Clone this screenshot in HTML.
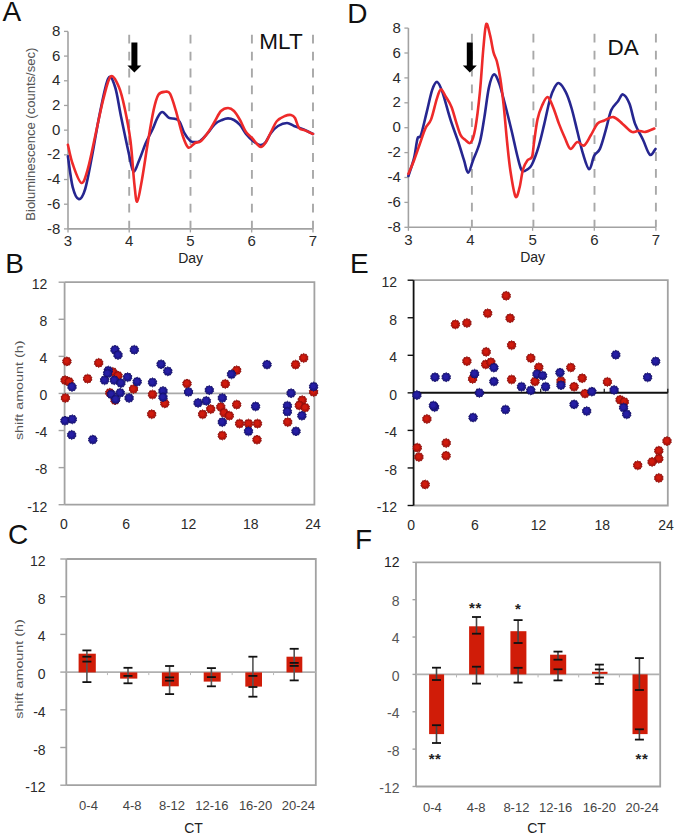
<!DOCTYPE html><html><head><meta charset="utf-8"><style>html,body{margin:0;padding:0;background:#fff;}svg{display:block;}</style></head><body>
<svg width="675" height="837" viewBox="0 0 675 837" font-family='"Liberation Sans", sans-serif'>
<rect width="675" height="837" fill="#fff"/>
<text x="2.6" y="20.6" font-size="28" text-anchor="start" fill="#111">A</text>
<text x="347.2" y="23.3" font-size="28" text-anchor="start" fill="#111">D</text>
<text x="5.3" y="273" font-size="28" text-anchor="start" fill="#111">B</text>
<text x="349.9" y="273" font-size="28" text-anchor="start" fill="#111">E</text>
<text x="7.9" y="543.5" font-size="28" text-anchor="start" fill="#111">C</text>
<text x="354.9" y="549.3" font-size="28" text-anchor="start" fill="#111">F</text>
<line x1="68" y1="31.4" x2="68" y2="228.9" stroke="#a2a2a2" stroke-width="1.6"/>
<line x1="68" y1="228.9" x2="313" y2="228.9" stroke="#a2a2a2" stroke-width="1.6"/>
<line x1="64" y1="31.4" x2="68" y2="31.4" stroke="#a2a2a2" stroke-width="1.3"/>
<text x="60.4" y="36" font-size="15" text-anchor="end" fill="#2a2a2a">8</text>
<line x1="64" y1="56.09" x2="68" y2="56.09" stroke="#a2a2a2" stroke-width="1.3"/>
<text x="60.4" y="60.69" font-size="15" text-anchor="end" fill="#2a2a2a">6</text>
<line x1="64" y1="80.78" x2="68" y2="80.78" stroke="#a2a2a2" stroke-width="1.3"/>
<text x="60.4" y="85.38" font-size="15" text-anchor="end" fill="#2a2a2a">4</text>
<line x1="64" y1="105.46" x2="68" y2="105.46" stroke="#a2a2a2" stroke-width="1.3"/>
<text x="60.4" y="110.06" font-size="15" text-anchor="end" fill="#2a2a2a">2</text>
<line x1="64" y1="130.15" x2="68" y2="130.15" stroke="#a2a2a2" stroke-width="1.3"/>
<text x="60.4" y="134.75" font-size="15" text-anchor="end" fill="#2a2a2a">0</text>
<line x1="64" y1="154.84" x2="68" y2="154.84" stroke="#a2a2a2" stroke-width="1.3"/>
<text x="60.4" y="159.44" font-size="15" text-anchor="end" fill="#2a2a2a">-2</text>
<line x1="64" y1="179.53" x2="68" y2="179.53" stroke="#a2a2a2" stroke-width="1.3"/>
<text x="60.4" y="184.12" font-size="15" text-anchor="end" fill="#2a2a2a">-4</text>
<line x1="64" y1="204.21" x2="68" y2="204.21" stroke="#a2a2a2" stroke-width="1.3"/>
<text x="60.4" y="208.81" font-size="15" text-anchor="end" fill="#2a2a2a">-6</text>
<line x1="64" y1="228.9" x2="68" y2="228.9" stroke="#a2a2a2" stroke-width="1.3"/>
<text x="60.4" y="233.5" font-size="15" text-anchor="end" fill="#2a2a2a">-8</text>
<line x1="68" y1="228.9" x2="68" y2="232.4" stroke="#a2a2a2" stroke-width="1.3"/>
<text x="68" y="246.2" font-size="15" text-anchor="middle" fill="#2a2a2a">3</text>
<line x1="129.2" y1="228.9" x2="129.2" y2="232.4" stroke="#a2a2a2" stroke-width="1.3"/>
<text x="129.2" y="246.2" font-size="15" text-anchor="middle" fill="#2a2a2a">4</text>
<line x1="190.4" y1="228.9" x2="190.4" y2="232.4" stroke="#a2a2a2" stroke-width="1.3"/>
<text x="190.4" y="246.2" font-size="15" text-anchor="middle" fill="#2a2a2a">5</text>
<line x1="251.7" y1="228.9" x2="251.7" y2="232.4" stroke="#a2a2a2" stroke-width="1.3"/>
<text x="251.7" y="246.2" font-size="15" text-anchor="middle" fill="#2a2a2a">6</text>
<line x1="313" y1="228.9" x2="313" y2="232.4" stroke="#a2a2a2" stroke-width="1.3"/>
<text x="313" y="246.2" font-size="15" text-anchor="middle" fill="#2a2a2a">7</text>
<line x1="129.2" y1="34.8" x2="129.2" y2="228.9" stroke="#a8a8a8" stroke-width="1.9" stroke-dasharray="8.8 8.1"/>
<line x1="190.5" y1="34.8" x2="190.5" y2="228.9" stroke="#a8a8a8" stroke-width="1.9" stroke-dasharray="8.8 8.1"/>
<line x1="251.9" y1="34.8" x2="251.9" y2="228.9" stroke="#a8a8a8" stroke-width="1.9" stroke-dasharray="8.8 8.1"/>
<line x1="313" y1="34.8" x2="313" y2="228.9" stroke="#a8a8a8" stroke-width="1.9" stroke-dasharray="8.8 8.1"/>
<path d="M67.9,156.3 C68.7,161.43 70.87,179.97 72.7,187.1 C74.53,194.23 76.82,198.78 78.9,199.1 C80.98,199.42 83.02,196.13 85.2,189 C87.38,181.87 89.58,168.82 92,156.3 C94.42,143.78 96.98,126.9 99.7,113.9 C102.42,100.9 105.73,82.78 108.3,78.3 C110.87,73.82 113,80.73 115.1,87 C117.2,93.27 118.65,105 120.9,115.9 C123.15,126.8 126.52,143.17 128.6,152.4 C130.68,161.63 131.63,170 133.4,171.3 C135.17,172.6 137.12,164.95 139.2,160.2 C141.28,155.45 143.67,147.95 145.9,142.8 C148.13,137.65 150.68,133.47 152.6,129.3 C154.52,125.13 155.78,120.68 157.4,117.8 C159.02,114.92 160.37,112 162.3,112 C164.23,112 166.92,116.68 169,117.8 C171.08,118.92 173.03,118.07 174.8,118.7 C176.57,119.33 178,119.18 179.6,121.6 C181.2,124.02 182.63,129.98 184.4,133.2 C186.17,136.42 188.6,139.43 190.2,140.9 C191.8,142.37 192.37,141.98 194,142 C195.63,142.02 197.83,142.33 200,141 C202.17,139.67 204.5,136.83 207,134 C209.5,131.17 212.5,126.33 215,124 C217.5,121.67 219.83,120.93 222,120 C224.17,119.07 226,118.4 228,118.4 C230,118.4 232,118.9 234,120 C236,121.1 238,122.67 240,125 C242,127.33 243.83,131.33 246,134 C248.17,136.67 250.67,139.17 253,141 C255.33,142.83 258,144.67 260,145 C262,145.33 263.17,145 265,143 C266.83,141 268.83,135.83 271,133 C273.17,130.17 275.33,127.67 278,126 C280.67,124.33 284.33,123 287,123 C289.67,123 291.67,125.1 294,126 C296.33,126.9 298.83,127.57 301,128.4 C303.17,129.23 305,130.07 307,131 C309,131.93 312,133.5 313,134" fill="none" stroke="#262690" stroke-width="2.6" stroke-linejoin="round" stroke-linecap="round"/>
<path d="M67.9,144.7 C68.7,147.92 70.45,157.63 72.7,164 C74.95,170.37 78.83,182.25 81.4,182.9 C83.97,183.55 85.7,176.18 88.1,167.9 C90.5,159.62 93.23,144.77 95.8,133.2 C98.37,121.63 101,107.97 103.5,98.5 C106,89.03 108.23,78.32 110.8,76.4 C113.37,74.48 116.58,81.7 118.9,87 C121.22,92.3 122.77,99.22 124.7,108.2 C126.63,117.18 128.9,128.38 130.5,140.9 C132.1,153.42 133.18,173.18 134.3,183.3 C135.42,193.42 135.92,202.25 137.2,201.6 C138.48,200.95 140.23,189.2 142,179.4 C143.77,169.6 145.87,154.35 147.8,142.8 C149.73,131.25 151.83,118.12 153.6,110.1 C155.37,102.08 156.47,97.75 158.4,94.7 C160.33,91.65 163.27,91.97 165.2,91.8 C167.13,91.63 168.25,90.65 170,93.7 C171.75,96.75 173.62,103.2 175.7,110.1 C177.78,117 180.4,128.85 182.5,135.1 C184.6,141.35 186.22,146.28 188.3,147.6 C190.38,148.92 192.88,144.1 195,143 C197.12,141.9 198.67,143 201,141 C203.33,139 206.67,134.33 209,131 C211.33,127.67 213,124.33 215,121 C217,117.67 218.83,113.17 221,111 C223.17,108.83 225.83,108 228,108 C230.17,108 232,109 234,111 C236,113 238,116.5 240,120 C242,123.5 244,129 246,132 C248,135 250.17,136 252,138 C253.83,140 255.5,142.5 257,144 C258.5,145.5 259.5,147.33 261,147 C262.5,146.67 264.33,144.5 266,142 C267.67,139.5 269.17,135.5 271,132 C272.83,128.5 274.67,123.67 277,121 C279.33,118.33 282.67,117 285,116 C287.33,115 289.33,114.67 291,115 C292.67,115.33 293.67,115.83 295,118 C296.33,120.17 297.33,125.93 299,128 C300.67,130.07 302.67,129.4 305,130.4 C307.33,131.4 311.67,133.4 313,134" fill="none" stroke="#ee2a2a" stroke-width="2.6" stroke-linejoin="round" stroke-linecap="round"/>
<path d="M131.4,42.6 H137.4 V65.6 H141.4 L134.4,72.6 L127.4,65.6 H131.4 Z" fill="#000"/>
<text x="259.3" y="48.9" font-size="22.5" text-anchor="start" fill="#111">MLT</text>
<text x="0" y="0" font-size="12.4" text-anchor="middle" fill="#555" textLength="173" lengthAdjust="spacingAndGlyphs" transform="translate(35,134.2) rotate(-90)">Bioluminescence (counts/sec)</text>
<text x="190.6" y="263.2" font-size="14" text-anchor="middle" fill="#222">Day</text>
<line x1="408.4" y1="28.1" x2="408.4" y2="227.3" stroke="#a2a2a2" stroke-width="1.6"/>
<line x1="408.4" y1="227.3" x2="655.9" y2="227.3" stroke="#a2a2a2" stroke-width="1.6"/>
<line x1="404.4" y1="28.1" x2="408.4" y2="28.1" stroke="#a2a2a2" stroke-width="1.3"/>
<text x="400.8" y="32.7" font-size="15" text-anchor="end" fill="#2a2a2a">8</text>
<line x1="404.4" y1="53" x2="408.4" y2="53" stroke="#a2a2a2" stroke-width="1.3"/>
<text x="400.8" y="57.6" font-size="15" text-anchor="end" fill="#2a2a2a">6</text>
<line x1="404.4" y1="77.9" x2="408.4" y2="77.9" stroke="#a2a2a2" stroke-width="1.3"/>
<text x="400.8" y="82.5" font-size="15" text-anchor="end" fill="#2a2a2a">4</text>
<line x1="404.4" y1="102.8" x2="408.4" y2="102.8" stroke="#a2a2a2" stroke-width="1.3"/>
<text x="400.8" y="107.4" font-size="15" text-anchor="end" fill="#2a2a2a">2</text>
<line x1="404.4" y1="127.7" x2="408.4" y2="127.7" stroke="#a2a2a2" stroke-width="1.3"/>
<text x="400.8" y="132.3" font-size="15" text-anchor="end" fill="#2a2a2a">0</text>
<line x1="404.4" y1="152.6" x2="408.4" y2="152.6" stroke="#a2a2a2" stroke-width="1.3"/>
<text x="400.8" y="157.2" font-size="15" text-anchor="end" fill="#2a2a2a">-2</text>
<line x1="404.4" y1="177.5" x2="408.4" y2="177.5" stroke="#a2a2a2" stroke-width="1.3"/>
<text x="400.8" y="182.1" font-size="15" text-anchor="end" fill="#2a2a2a">-4</text>
<line x1="404.4" y1="202.4" x2="408.4" y2="202.4" stroke="#a2a2a2" stroke-width="1.3"/>
<text x="400.8" y="207" font-size="15" text-anchor="end" fill="#2a2a2a">-6</text>
<line x1="404.4" y1="227.3" x2="408.4" y2="227.3" stroke="#a2a2a2" stroke-width="1.3"/>
<text x="400.8" y="231.9" font-size="15" text-anchor="end" fill="#2a2a2a">-8</text>
<line x1="408.4" y1="227.3" x2="408.4" y2="230.8" stroke="#a2a2a2" stroke-width="1.3"/>
<text x="408.4" y="244.6" font-size="15" text-anchor="middle" fill="#2a2a2a">3</text>
<line x1="470.4" y1="227.3" x2="470.4" y2="230.8" stroke="#a2a2a2" stroke-width="1.3"/>
<text x="470.4" y="244.6" font-size="15" text-anchor="middle" fill="#2a2a2a">4</text>
<line x1="532.6" y1="227.3" x2="532.6" y2="230.8" stroke="#a2a2a2" stroke-width="1.3"/>
<text x="532.6" y="244.6" font-size="15" text-anchor="middle" fill="#2a2a2a">5</text>
<line x1="594.3" y1="227.3" x2="594.3" y2="230.8" stroke="#a2a2a2" stroke-width="1.3"/>
<text x="594.3" y="244.6" font-size="15" text-anchor="middle" fill="#2a2a2a">6</text>
<line x1="655.9" y1="227.3" x2="655.9" y2="230.8" stroke="#a2a2a2" stroke-width="1.3"/>
<text x="655.9" y="244.6" font-size="15" text-anchor="middle" fill="#2a2a2a">7</text>
<line x1="471.9" y1="33.8" x2="471.9" y2="227.3" stroke="#a8a8a8" stroke-width="1.9" stroke-dasharray="8.8 8.1"/>
<line x1="533.4" y1="33.8" x2="533.4" y2="227.3" stroke="#a8a8a8" stroke-width="1.9" stroke-dasharray="8.8 8.1"/>
<line x1="594.5" y1="33.8" x2="594.5" y2="227.3" stroke="#a8a8a8" stroke-width="1.9" stroke-dasharray="8.8 8.1"/>
<line x1="655.9" y1="33.8" x2="655.9" y2="227.3" stroke="#a8a8a8" stroke-width="1.9" stroke-dasharray="8.8 8.1"/>
<path d="M408.4,176 C409.35,172.98 412.58,164.13 414.1,157.9 C415.62,151.67 416.37,142.38 417.5,138.6 C418.63,134.82 419.38,139.53 420.9,135.2 C422.42,130.87 424.72,120.15 426.6,112.6 C428.48,105.05 430.43,95.02 432.2,89.9 C433.97,84.78 435.5,81.53 437.2,81.9 C438.9,82.27 440.2,85.85 442.4,92.1 C444.6,98.35 447.75,111.08 450.4,119.4 C453.05,127.72 456.03,135.2 458.3,142 C460.57,148.8 462.37,155.08 464,160.2 C465.63,165.32 466.58,172.7 468.1,172.7 C469.62,172.7 471.13,165.32 473.1,160.2 C475.07,155.08 478.02,149.18 479.9,142 C481.78,134.82 482.9,126.17 484.4,117.1 C485.9,108.03 487.32,94.72 488.9,87.6 C490.48,80.48 492.2,75.15 493.9,74.4 C495.6,73.65 497.28,78.25 499.1,83.1 C500.92,87.95 502.72,95.57 504.8,103.5 C506.88,111.43 509.52,122 511.6,130.7 C513.68,139.4 515.6,149.08 517.3,155.7 C519,162.32 520.1,168.13 521.8,170.4 C523.5,172.67 525.83,170.23 527.5,169.3 C529.17,168.37 529.95,168.58 531.8,164.8 C533.65,161.02 536.52,153.42 538.6,146.6 C540.68,139.78 542.4,131.83 544.3,123.9 C546.2,115.97 548.3,105.05 550,99 C551.7,92.95 553,90.25 554.5,87.6 C556,84.95 557.12,82.33 559,83.1 C560.88,83.87 563.72,88.05 565.8,92.2 C567.88,96.35 569.6,101.58 571.5,108 C573.4,114.42 575.3,123.13 577.2,130.7 C579.1,138.27 580.9,146.97 582.9,153.4 C584.9,159.83 587.32,168.92 589.2,169.3 C591.08,169.68 592.42,159.1 594.2,155.7 C595.98,152.3 598,153.07 599.9,148.9 C601.8,144.73 603.72,137.13 605.6,130.7 C607.48,124.27 609.13,115.22 611.2,110.3 C613.27,105.38 616.03,103.85 618,101.2 C619.97,98.55 621.1,94.02 623,94.4 C624.9,94.78 627.38,98.58 629.4,103.5 C631.42,108.42 632.83,117.85 635.1,123.9 C637.37,129.95 640.55,134.68 643,139.8 C645.45,144.92 647.72,153.08 649.8,154.6 C651.88,156.12 654.55,149.85 655.5,148.9" fill="none" stroke="#262690" stroke-width="2.6" stroke-linejoin="round" stroke-linecap="round"/>
<path d="M408.4,173.8 C409.35,171.53 412.22,165.12 414.1,160.2 C415.98,155.28 417.82,149.6 419.7,144.3 C421.58,139 423.5,132.55 425.4,128.4 C427.3,124.25 429.2,124.32 431.1,119.4 C433,114.48 435.18,103.9 436.8,98.9 C438.42,93.9 439.3,89.77 440.8,89.4 C442.3,89.03 444.02,93.78 445.8,96.7 C447.58,99.62 449.8,102.75 451.5,106.9 C453.2,111.05 454.48,116.88 456,121.6 C457.52,126.32 459.08,132.17 460.6,135.2 C462.12,138.23 463.4,138.58 465.1,139.8 C466.8,141.02 469.1,144.4 470.8,142.5 C472.5,140.6 473.78,136.8 475.3,128.4 C476.82,120 478.57,105.33 479.9,92.1 C481.23,78.87 482.25,60.33 483.3,49 C484.35,37.67 485.07,26.37 486.2,24.1 C487.33,21.83 488.88,30.68 490.1,35.4 C491.32,40.12 492.37,48.05 493.5,52.4 C494.63,56.75 495.77,57.15 496.9,61.5 C498.03,65.85 499.17,71.13 500.3,78.5 C501.43,85.87 502.57,95.12 503.7,105.7 C504.83,116.28 505.97,131.03 507.1,142 C508.23,152.97 509.1,162.42 510.5,171.5 C511.9,180.58 513.98,193.85 515.5,196.5 C517.02,199.15 518.35,191.93 519.6,187.4 C520.85,182.87 521.68,173.83 523,169.3 C524.32,164.77 526,162.28 527.5,160.2 C529,158.12 530.9,159.82 532,156.8 C533.1,153.78 533.18,148.33 534.1,142.1 C535.02,135.87 536.18,125.45 537.5,119.4 C538.82,113.35 540.3,109.52 542,105.8 C543.7,102.08 545.8,96.73 547.7,97.1 C549.6,97.47 551.52,103.53 553.4,108 C555.28,112.47 557.12,118.98 559,123.9 C560.88,128.82 562.8,133.33 564.7,137.5 C566.6,141.67 568.32,148.13 570.4,148.9 C572.48,149.67 574.93,142.67 577.2,142.1 C579.47,141.53 581.73,146.63 584,145.5 C586.27,144.37 588.53,138.97 590.8,135.3 C593.07,131.63 595.33,125.97 597.6,123.5 C599.87,121.03 601.75,121.57 604.4,120.5 C607.05,119.43 610.47,116.53 613.5,117.1 C616.53,117.67 619.57,121.43 622.6,123.9 C625.63,126.37 629.05,130.77 631.7,131.9 C634.35,133.03 636.23,130.7 638.5,130.7 C640.77,130.7 642.67,132.27 645.3,131.9 C647.93,131.53 652.8,129.07 654.3,128.5" fill="none" stroke="#ee2a2a" stroke-width="2.6" stroke-linejoin="round" stroke-linecap="round"/>
<path d="M466.8,42.6 H472.8 V65.6 H476.8 L469.8,72.6 L462.8,65.6 H466.8 Z" fill="#000"/>
<text x="607.4" y="54.5" font-size="22.5" text-anchor="start" fill="#111">DA</text>
<text x="532.6" y="262" font-size="14" text-anchor="middle" fill="#222">Day</text>
<path d="M64.6,282.2 H314.4 V504.7 H64.6" fill="none" stroke="#a2a2a2" stroke-width="1.8"/>
<line x1="64.6" y1="282.2" x2="64.6" y2="504.7" stroke="#a2a2a2" stroke-width="1.8"/>
<line x1="58.6" y1="282.2" x2="64.6" y2="282.2" stroke="#a2a2a2" stroke-width="1.4"/>
<text x="47.4" y="289" font-size="14" text-anchor="end" fill="#2a2a2a">12</text>
<line x1="58.6" y1="319.28" x2="64.6" y2="319.28" stroke="#a2a2a2" stroke-width="1.4"/>
<text x="47.4" y="326.08" font-size="14" text-anchor="end" fill="#2a2a2a">8</text>
<line x1="58.6" y1="356.37" x2="64.6" y2="356.37" stroke="#a2a2a2" stroke-width="1.4"/>
<text x="47.4" y="363.17" font-size="14" text-anchor="end" fill="#2a2a2a">4</text>
<line x1="58.6" y1="393.45" x2="64.6" y2="393.45" stroke="#a2a2a2" stroke-width="1.4"/>
<text x="47.4" y="400.25" font-size="14" text-anchor="end" fill="#2a2a2a">0</text>
<line x1="58.6" y1="430.53" x2="64.6" y2="430.53" stroke="#a2a2a2" stroke-width="1.4"/>
<text x="47.4" y="437.33" font-size="14" text-anchor="end" fill="#2a2a2a">-4</text>
<line x1="58.6" y1="467.62" x2="64.6" y2="467.62" stroke="#a2a2a2" stroke-width="1.4"/>
<text x="47.4" y="474.42" font-size="14" text-anchor="end" fill="#2a2a2a">-8</text>
<line x1="58.6" y1="504.7" x2="64.6" y2="504.7" stroke="#a2a2a2" stroke-width="1.4"/>
<text x="47.4" y="511.5" font-size="14" text-anchor="end" fill="#2a2a2a">-12</text>
<text x="63.9" y="529.4" font-size="14" text-anchor="middle" fill="#2a2a2a">0</text>
<text x="126.17" y="529.4" font-size="14" text-anchor="middle" fill="#2a2a2a">6</text>
<text x="188.45" y="529.4" font-size="14" text-anchor="middle" fill="#2a2a2a">12</text>
<text x="250.73" y="529.4" font-size="14" text-anchor="middle" fill="#2a2a2a">18</text>
<text x="313" y="529.4" font-size="14" text-anchor="middle" fill="#2a2a2a">24</text>
<line x1="64.6" y1="393.45" x2="314.4" y2="393.45" stroke="#a9a9a9" stroke-width="1.8"/>
<g transform="translate(66.9,361.4)"><polygon points="0.00,-4.55 1.17,-3.61 2.67,-3.68 3.07,-2.23 4.33,-1.41 3.80,0.00 4.33,1.41 3.07,2.23 2.67,3.68 1.17,3.61 0.00,4.55 -1.17,3.61 -2.67,3.68 -3.07,2.23 -4.33,1.41 -3.80,0.00 -4.33,-1.41 -3.07,-2.23 -2.67,-3.68 -1.17,-3.61" fill="#b8140c" stroke="#8c0e0a" stroke-width="0.9" stroke-linejoin="round"/><circle cx="-0.3" cy="-0.4" r="2.4" fill="#d41c0e" opacity="0.85"/></g>
<g transform="translate(98.7,362.9)"><polygon points="0.00,-4.55 1.17,-3.61 2.67,-3.68 3.07,-2.23 4.33,-1.41 3.80,0.00 4.33,1.41 3.07,2.23 2.67,3.68 1.17,3.61 0.00,4.55 -1.17,3.61 -2.67,3.68 -3.07,2.23 -4.33,1.41 -3.80,0.00 -4.33,-1.41 -3.07,-2.23 -2.67,-3.68 -1.17,-3.61" fill="#b8140c" stroke="#8c0e0a" stroke-width="0.9" stroke-linejoin="round"/><circle cx="-0.3" cy="-0.4" r="2.4" fill="#d41c0e" opacity="0.85"/></g>
<g transform="translate(87.6,378.7)"><polygon points="0.00,-4.55 1.17,-3.61 2.67,-3.68 3.07,-2.23 4.33,-1.41 3.80,0.00 4.33,1.41 3.07,2.23 2.67,3.68 1.17,3.61 0.00,4.55 -1.17,3.61 -2.67,3.68 -3.07,2.23 -4.33,1.41 -3.80,0.00 -4.33,-1.41 -3.07,-2.23 -2.67,-3.68 -1.17,-3.61" fill="#b8140c" stroke="#8c0e0a" stroke-width="0.9" stroke-linejoin="round"/><circle cx="-0.3" cy="-0.4" r="2.4" fill="#d41c0e" opacity="0.85"/></g>
<g transform="translate(65.1,380.2)"><polygon points="0.00,-4.55 1.17,-3.61 2.67,-3.68 3.07,-2.23 4.33,-1.41 3.80,0.00 4.33,1.41 3.07,2.23 2.67,3.68 1.17,3.61 0.00,4.55 -1.17,3.61 -2.67,3.68 -3.07,2.23 -4.33,1.41 -3.80,0.00 -4.33,-1.41 -3.07,-2.23 -2.67,-3.68 -1.17,-3.61" fill="#b8140c" stroke="#8c0e0a" stroke-width="0.9" stroke-linejoin="round"/><circle cx="-0.3" cy="-0.4" r="2.4" fill="#d41c0e" opacity="0.85"/></g>
<g transform="translate(69.1,381.7)"><polygon points="0.00,-4.55 1.17,-3.61 2.67,-3.68 3.07,-2.23 4.33,-1.41 3.80,0.00 4.33,1.41 3.07,2.23 2.67,3.68 1.17,3.61 0.00,4.55 -1.17,3.61 -2.67,3.68 -3.07,2.23 -4.33,1.41 -3.80,0.00 -4.33,-1.41 -3.07,-2.23 -2.67,-3.68 -1.17,-3.61" fill="#b8140c" stroke="#8c0e0a" stroke-width="0.9" stroke-linejoin="round"/><circle cx="-0.3" cy="-0.4" r="2.4" fill="#d41c0e" opacity="0.85"/></g>
<g transform="translate(65.4,398)"><polygon points="0.00,-4.55 1.17,-3.61 2.67,-3.68 3.07,-2.23 4.33,-1.41 3.80,0.00 4.33,1.41 3.07,2.23 2.67,3.68 1.17,3.61 0.00,4.55 -1.17,3.61 -2.67,3.68 -3.07,2.23 -4.33,1.41 -3.80,0.00 -4.33,-1.41 -3.07,-2.23 -2.67,-3.68 -1.17,-3.61" fill="#b8140c" stroke="#8c0e0a" stroke-width="0.9" stroke-linejoin="round"/><circle cx="-0.3" cy="-0.4" r="2.4" fill="#d41c0e" opacity="0.85"/></g>
<g transform="translate(112.8,372)"><polygon points="0.00,-4.55 1.17,-3.61 2.67,-3.68 3.07,-2.23 4.33,-1.41 3.80,0.00 4.33,1.41 3.07,2.23 2.67,3.68 1.17,3.61 0.00,4.55 -1.17,3.61 -2.67,3.68 -3.07,2.23 -4.33,1.41 -3.80,0.00 -4.33,-1.41 -3.07,-2.23 -2.67,-3.68 -1.17,-3.61" fill="#b8140c" stroke="#8c0e0a" stroke-width="0.9" stroke-linejoin="round"/><circle cx="-0.3" cy="-0.4" r="2.4" fill="#d41c0e" opacity="0.85"/></g>
<g transform="translate(118,375.7)"><polygon points="0.00,-4.55 1.17,-3.61 2.67,-3.68 3.07,-2.23 4.33,-1.41 3.80,0.00 4.33,1.41 3.07,2.23 2.67,3.68 1.17,3.61 0.00,4.55 -1.17,3.61 -2.67,3.68 -3.07,2.23 -4.33,1.41 -3.80,0.00 -4.33,-1.41 -3.07,-2.23 -2.67,-3.68 -1.17,-3.61" fill="#b8140c" stroke="#8c0e0a" stroke-width="0.9" stroke-linejoin="round"/><circle cx="-0.3" cy="-0.4" r="2.4" fill="#d41c0e" opacity="0.85"/></g>
<g transform="translate(109.8,392.8)"><polygon points="0.00,-4.55 1.17,-3.61 2.67,-3.68 3.07,-2.23 4.33,-1.41 3.80,0.00 4.33,1.41 3.07,2.23 2.67,3.68 1.17,3.61 0.00,4.55 -1.17,3.61 -2.67,3.68 -3.07,2.23 -4.33,1.41 -3.80,0.00 -4.33,-1.41 -3.07,-2.23 -2.67,-3.68 -1.17,-3.61" fill="#b8140c" stroke="#8c0e0a" stroke-width="0.9" stroke-linejoin="round"/><circle cx="-0.3" cy="-0.4" r="2.4" fill="#d41c0e" opacity="0.85"/></g>
<g transform="translate(115,400.2)"><polygon points="0.00,-4.55 1.17,-3.61 2.67,-3.68 3.07,-2.23 4.33,-1.41 3.80,0.00 4.33,1.41 3.07,2.23 2.67,3.68 1.17,3.61 0.00,4.55 -1.17,3.61 -2.67,3.68 -3.07,2.23 -4.33,1.41 -3.80,0.00 -4.33,-1.41 -3.07,-2.23 -2.67,-3.68 -1.17,-3.61" fill="#b8140c" stroke="#8c0e0a" stroke-width="0.9" stroke-linejoin="round"/><circle cx="-0.3" cy="-0.4" r="2.4" fill="#d41c0e" opacity="0.85"/></g>
<g transform="translate(133.5,389)"><polygon points="0.00,-4.55 1.17,-3.61 2.67,-3.68 3.07,-2.23 4.33,-1.41 3.80,0.00 4.33,1.41 3.07,2.23 2.67,3.68 1.17,3.61 0.00,4.55 -1.17,3.61 -2.67,3.68 -3.07,2.23 -4.33,1.41 -3.80,0.00 -4.33,-1.41 -3.07,-2.23 -2.67,-3.68 -1.17,-3.61" fill="#b8140c" stroke="#8c0e0a" stroke-width="0.9" stroke-linejoin="round"/><circle cx="-0.3" cy="-0.4" r="2.4" fill="#d41c0e" opacity="0.85"/></g>
<g transform="translate(152.5,394.5)"><polygon points="0.00,-4.55 1.17,-3.61 2.67,-3.68 3.07,-2.23 4.33,-1.41 3.80,0.00 4.33,1.41 3.07,2.23 2.67,3.68 1.17,3.61 0.00,4.55 -1.17,3.61 -2.67,3.68 -3.07,2.23 -4.33,1.41 -3.80,0.00 -4.33,-1.41 -3.07,-2.23 -2.67,-3.68 -1.17,-3.61" fill="#b8140c" stroke="#8c0e0a" stroke-width="0.9" stroke-linejoin="round"/><circle cx="-0.3" cy="-0.4" r="2.4" fill="#d41c0e" opacity="0.85"/></g>
<g transform="translate(151.7,414.2)"><polygon points="0.00,-4.55 1.17,-3.61 2.67,-3.68 3.07,-2.23 4.33,-1.41 3.80,0.00 4.33,1.41 3.07,2.23 2.67,3.68 1.17,3.61 0.00,4.55 -1.17,3.61 -2.67,3.68 -3.07,2.23 -4.33,1.41 -3.80,0.00 -4.33,-1.41 -3.07,-2.23 -2.67,-3.68 -1.17,-3.61" fill="#b8140c" stroke="#8c0e0a" stroke-width="0.9" stroke-linejoin="round"/><circle cx="-0.3" cy="-0.4" r="2.4" fill="#d41c0e" opacity="0.85"/></g>
<g transform="translate(164.8,403.4)"><polygon points="0.00,-4.55 1.17,-3.61 2.67,-3.68 3.07,-2.23 4.33,-1.41 3.80,0.00 4.33,1.41 3.07,2.23 2.67,3.68 1.17,3.61 0.00,4.55 -1.17,3.61 -2.67,3.68 -3.07,2.23 -4.33,1.41 -3.80,0.00 -4.33,-1.41 -3.07,-2.23 -2.67,-3.68 -1.17,-3.61" fill="#b8140c" stroke="#8c0e0a" stroke-width="0.9" stroke-linejoin="round"/><circle cx="-0.3" cy="-0.4" r="2.4" fill="#d41c0e" opacity="0.85"/></g>
<g transform="translate(187,383.6)"><polygon points="0.00,-4.55 1.17,-3.61 2.67,-3.68 3.07,-2.23 4.33,-1.41 3.80,0.00 4.33,1.41 3.07,2.23 2.67,3.68 1.17,3.61 0.00,4.55 -1.17,3.61 -2.67,3.68 -3.07,2.23 -4.33,1.41 -3.80,0.00 -4.33,-1.41 -3.07,-2.23 -2.67,-3.68 -1.17,-3.61" fill="#b8140c" stroke="#8c0e0a" stroke-width="0.9" stroke-linejoin="round"/><circle cx="-0.3" cy="-0.4" r="2.4" fill="#d41c0e" opacity="0.85"/></g>
<g transform="translate(210.7,409.1)"><polygon points="0.00,-4.55 1.17,-3.61 2.67,-3.68 3.07,-2.23 4.33,-1.41 3.80,0.00 4.33,1.41 3.07,2.23 2.67,3.68 1.17,3.61 0.00,4.55 -1.17,3.61 -2.67,3.68 -3.07,2.23 -4.33,1.41 -3.80,0.00 -4.33,-1.41 -3.07,-2.23 -2.67,-3.68 -1.17,-3.61" fill="#b8140c" stroke="#8c0e0a" stroke-width="0.9" stroke-linejoin="round"/><circle cx="-0.3" cy="-0.4" r="2.4" fill="#d41c0e" opacity="0.85"/></g>
<g transform="translate(202.6,414.3)"><polygon points="0.00,-4.55 1.17,-3.61 2.67,-3.68 3.07,-2.23 4.33,-1.41 3.80,0.00 4.33,1.41 3.07,2.23 2.67,3.68 1.17,3.61 0.00,4.55 -1.17,3.61 -2.67,3.68 -3.07,2.23 -4.33,1.41 -3.80,0.00 -4.33,-1.41 -3.07,-2.23 -2.67,-3.68 -1.17,-3.61" fill="#b8140c" stroke="#8c0e0a" stroke-width="0.9" stroke-linejoin="round"/><circle cx="-0.3" cy="-0.4" r="2.4" fill="#d41c0e" opacity="0.85"/></g>
<g transform="translate(220.8,406.9)"><polygon points="0.00,-4.55 1.17,-3.61 2.67,-3.68 3.07,-2.23 4.33,-1.41 3.80,0.00 4.33,1.41 3.07,2.23 2.67,3.68 1.17,3.61 0.00,4.55 -1.17,3.61 -2.67,3.68 -3.07,2.23 -4.33,1.41 -3.80,0.00 -4.33,-1.41 -3.07,-2.23 -2.67,-3.68 -1.17,-3.61" fill="#b8140c" stroke="#8c0e0a" stroke-width="0.9" stroke-linejoin="round"/><circle cx="-0.3" cy="-0.4" r="2.4" fill="#d41c0e" opacity="0.85"/></g>
<g transform="translate(224.1,412.8)"><polygon points="0.00,-4.55 1.17,-3.61 2.67,-3.68 3.07,-2.23 4.33,-1.41 3.80,0.00 4.33,1.41 3.07,2.23 2.67,3.68 1.17,3.61 0.00,4.55 -1.17,3.61 -2.67,3.68 -3.07,2.23 -4.33,1.41 -3.80,0.00 -4.33,-1.41 -3.07,-2.23 -2.67,-3.68 -1.17,-3.61" fill="#b8140c" stroke="#8c0e0a" stroke-width="0.9" stroke-linejoin="round"/><circle cx="-0.3" cy="-0.4" r="2.4" fill="#d41c0e" opacity="0.85"/></g>
<g transform="translate(229.3,415.7)"><polygon points="0.00,-4.55 1.17,-3.61 2.67,-3.68 3.07,-2.23 4.33,-1.41 3.80,0.00 4.33,1.41 3.07,2.23 2.67,3.68 1.17,3.61 0.00,4.55 -1.17,3.61 -2.67,3.68 -3.07,2.23 -4.33,1.41 -3.80,0.00 -4.33,-1.41 -3.07,-2.23 -2.67,-3.68 -1.17,-3.61" fill="#b8140c" stroke="#8c0e0a" stroke-width="0.9" stroke-linejoin="round"/><circle cx="-0.3" cy="-0.4" r="2.4" fill="#d41c0e" opacity="0.85"/></g>
<g transform="translate(225.3,383.9)"><polygon points="0.00,-4.55 1.17,-3.61 2.67,-3.68 3.07,-2.23 4.33,-1.41 3.80,0.00 4.33,1.41 3.07,2.23 2.67,3.68 1.17,3.61 0.00,4.55 -1.17,3.61 -2.67,3.68 -3.07,2.23 -4.33,1.41 -3.80,0.00 -4.33,-1.41 -3.07,-2.23 -2.67,-3.68 -1.17,-3.61" fill="#b8140c" stroke="#8c0e0a" stroke-width="0.9" stroke-linejoin="round"/><circle cx="-0.3" cy="-0.4" r="2.4" fill="#d41c0e" opacity="0.85"/></g>
<g transform="translate(236.7,370.3)"><polygon points="0.00,-4.55 1.17,-3.61 2.67,-3.68 3.07,-2.23 4.33,-1.41 3.80,0.00 4.33,1.41 3.07,2.23 2.67,3.68 1.17,3.61 0.00,4.55 -1.17,3.61 -2.67,3.68 -3.07,2.23 -4.33,1.41 -3.80,0.00 -4.33,-1.41 -3.07,-2.23 -2.67,-3.68 -1.17,-3.61" fill="#b8140c" stroke="#8c0e0a" stroke-width="0.9" stroke-linejoin="round"/><circle cx="-0.3" cy="-0.4" r="2.4" fill="#d41c0e" opacity="0.85"/></g>
<g transform="translate(236.7,404.6)"><polygon points="0.00,-4.55 1.17,-3.61 2.67,-3.68 3.07,-2.23 4.33,-1.41 3.80,0.00 4.33,1.41 3.07,2.23 2.67,3.68 1.17,3.61 0.00,4.55 -1.17,3.61 -2.67,3.68 -3.07,2.23 -4.33,1.41 -3.80,0.00 -4.33,-1.41 -3.07,-2.23 -2.67,-3.68 -1.17,-3.61" fill="#b8140c" stroke="#8c0e0a" stroke-width="0.9" stroke-linejoin="round"/><circle cx="-0.3" cy="-0.4" r="2.4" fill="#d41c0e" opacity="0.85"/></g>
<g transform="translate(239.6,423.6)"><polygon points="0.00,-4.55 1.17,-3.61 2.67,-3.68 3.07,-2.23 4.33,-1.41 3.80,0.00 4.33,1.41 3.07,2.23 2.67,3.68 1.17,3.61 0.00,4.55 -1.17,3.61 -2.67,3.68 -3.07,2.23 -4.33,1.41 -3.80,0.00 -4.33,-1.41 -3.07,-2.23 -2.67,-3.68 -1.17,-3.61" fill="#b8140c" stroke="#8c0e0a" stroke-width="0.9" stroke-linejoin="round"/><circle cx="-0.3" cy="-0.4" r="2.4" fill="#d41c0e" opacity="0.85"/></g>
<g transform="translate(248.5,423.6)"><polygon points="0.00,-4.55 1.17,-3.61 2.67,-3.68 3.07,-2.23 4.33,-1.41 3.80,0.00 4.33,1.41 3.07,2.23 2.67,3.68 1.17,3.61 0.00,4.55 -1.17,3.61 -2.67,3.68 -3.07,2.23 -4.33,1.41 -3.80,0.00 -4.33,-1.41 -3.07,-2.23 -2.67,-3.68 -1.17,-3.61" fill="#b8140c" stroke="#8c0e0a" stroke-width="0.9" stroke-linejoin="round"/><circle cx="-0.3" cy="-0.4" r="2.4" fill="#d41c0e" opacity="0.85"/></g>
<g transform="translate(257.5,423.6)"><polygon points="0.00,-4.55 1.17,-3.61 2.67,-3.68 3.07,-2.23 4.33,-1.41 3.80,0.00 4.33,1.41 3.07,2.23 2.67,3.68 1.17,3.61 0.00,4.55 -1.17,3.61 -2.67,3.68 -3.07,2.23 -4.33,1.41 -3.80,0.00 -4.33,-1.41 -3.07,-2.23 -2.67,-3.68 -1.17,-3.61" fill="#b8140c" stroke="#8c0e0a" stroke-width="0.9" stroke-linejoin="round"/><circle cx="-0.3" cy="-0.4" r="2.4" fill="#d41c0e" opacity="0.85"/></g>
<g transform="translate(222.3,435.5)"><polygon points="0.00,-4.55 1.17,-3.61 2.67,-3.68 3.07,-2.23 4.33,-1.41 3.80,0.00 4.33,1.41 3.07,2.23 2.67,3.68 1.17,3.61 0.00,4.55 -1.17,3.61 -2.67,3.68 -3.07,2.23 -4.33,1.41 -3.80,0.00 -4.33,-1.41 -3.07,-2.23 -2.67,-3.68 -1.17,-3.61" fill="#b8140c" stroke="#8c0e0a" stroke-width="0.9" stroke-linejoin="round"/><circle cx="-0.3" cy="-0.4" r="2.4" fill="#d41c0e" opacity="0.85"/></g>
<g transform="translate(257,439.7)"><polygon points="0.00,-4.55 1.17,-3.61 2.67,-3.68 3.07,-2.23 4.33,-1.41 3.80,0.00 4.33,1.41 3.07,2.23 2.67,3.68 1.17,3.61 0.00,4.55 -1.17,3.61 -2.67,3.68 -3.07,2.23 -4.33,1.41 -3.80,0.00 -4.33,-1.41 -3.07,-2.23 -2.67,-3.68 -1.17,-3.61" fill="#b8140c" stroke="#8c0e0a" stroke-width="0.9" stroke-linejoin="round"/><circle cx="-0.3" cy="-0.4" r="2.4" fill="#d41c0e" opacity="0.85"/></g>
<g transform="translate(303.7,358)"><polygon points="0.00,-4.55 1.17,-3.61 2.67,-3.68 3.07,-2.23 4.33,-1.41 3.80,0.00 4.33,1.41 3.07,2.23 2.67,3.68 1.17,3.61 0.00,4.55 -1.17,3.61 -2.67,3.68 -3.07,2.23 -4.33,1.41 -3.80,0.00 -4.33,-1.41 -3.07,-2.23 -2.67,-3.68 -1.17,-3.61" fill="#b8140c" stroke="#8c0e0a" stroke-width="0.9" stroke-linejoin="round"/><circle cx="-0.3" cy="-0.4" r="2.4" fill="#d41c0e" opacity="0.85"/></g>
<g transform="translate(295.6,364.6)"><polygon points="0.00,-4.55 1.17,-3.61 2.67,-3.68 3.07,-2.23 4.33,-1.41 3.80,0.00 4.33,1.41 3.07,2.23 2.67,3.68 1.17,3.61 0.00,4.55 -1.17,3.61 -2.67,3.68 -3.07,2.23 -4.33,1.41 -3.80,0.00 -4.33,-1.41 -3.07,-2.23 -2.67,-3.68 -1.17,-3.61" fill="#b8140c" stroke="#8c0e0a" stroke-width="0.9" stroke-linejoin="round"/><circle cx="-0.3" cy="-0.4" r="2.4" fill="#d41c0e" opacity="0.85"/></g>
<g transform="translate(313.6,392)"><polygon points="0.00,-4.55 1.17,-3.61 2.67,-3.68 3.07,-2.23 4.33,-1.41 3.80,0.00 4.33,1.41 3.07,2.23 2.67,3.68 1.17,3.61 0.00,4.55 -1.17,3.61 -2.67,3.68 -3.07,2.23 -4.33,1.41 -3.80,0.00 -4.33,-1.41 -3.07,-2.23 -2.67,-3.68 -1.17,-3.61" fill="#b8140c" stroke="#8c0e0a" stroke-width="0.9" stroke-linejoin="round"/><circle cx="-0.3" cy="-0.4" r="2.4" fill="#d41c0e" opacity="0.85"/></g>
<g transform="translate(302.2,400.2)"><polygon points="0.00,-4.55 1.17,-3.61 2.67,-3.68 3.07,-2.23 4.33,-1.41 3.80,0.00 4.33,1.41 3.07,2.23 2.67,3.68 1.17,3.61 0.00,4.55 -1.17,3.61 -2.67,3.68 -3.07,2.23 -4.33,1.41 -3.80,0.00 -4.33,-1.41 -3.07,-2.23 -2.67,-3.68 -1.17,-3.61" fill="#b8140c" stroke="#8c0e0a" stroke-width="0.9" stroke-linejoin="round"/><circle cx="-0.3" cy="-0.4" r="2.4" fill="#d41c0e" opacity="0.85"/></g>
<g transform="translate(299.3,405.4)"><polygon points="0.00,-4.55 1.17,-3.61 2.67,-3.68 3.07,-2.23 4.33,-1.41 3.80,0.00 4.33,1.41 3.07,2.23 2.67,3.68 1.17,3.61 0.00,4.55 -1.17,3.61 -2.67,3.68 -3.07,2.23 -4.33,1.41 -3.80,0.00 -4.33,-1.41 -3.07,-2.23 -2.67,-3.68 -1.17,-3.61" fill="#b8140c" stroke="#8c0e0a" stroke-width="0.9" stroke-linejoin="round"/><circle cx="-0.3" cy="-0.4" r="2.4" fill="#d41c0e" opacity="0.85"/></g>
<g transform="translate(305.2,407.6)"><polygon points="0.00,-4.55 1.17,-3.61 2.67,-3.68 3.07,-2.23 4.33,-1.41 3.80,0.00 4.33,1.41 3.07,2.23 2.67,3.68 1.17,3.61 0.00,4.55 -1.17,3.61 -2.67,3.68 -3.07,2.23 -4.33,1.41 -3.80,0.00 -4.33,-1.41 -3.07,-2.23 -2.67,-3.68 -1.17,-3.61" fill="#b8140c" stroke="#8c0e0a" stroke-width="0.9" stroke-linejoin="round"/><circle cx="-0.3" cy="-0.4" r="2.4" fill="#d41c0e" opacity="0.85"/></g>
<g transform="translate(287.7,422.1)"><polygon points="0.00,-4.55 1.17,-3.61 2.67,-3.68 3.07,-2.23 4.33,-1.41 3.80,0.00 4.33,1.41 3.07,2.23 2.67,3.68 1.17,3.61 0.00,4.55 -1.17,3.61 -2.67,3.68 -3.07,2.23 -4.33,1.41 -3.80,0.00 -4.33,-1.41 -3.07,-2.23 -2.67,-3.68 -1.17,-3.61" fill="#b8140c" stroke="#8c0e0a" stroke-width="0.9" stroke-linejoin="round"/><circle cx="-0.3" cy="-0.4" r="2.4" fill="#d41c0e" opacity="0.85"/></g>
<g transform="translate(115,349.8)"><polygon points="0.00,-4.55 1.17,-3.61 2.67,-3.68 3.07,-2.23 4.33,-1.41 3.80,0.00 4.33,1.41 3.07,2.23 2.67,3.68 1.17,3.61 0.00,4.55 -1.17,3.61 -2.67,3.68 -3.07,2.23 -4.33,1.41 -3.80,0.00 -4.33,-1.41 -3.07,-2.23 -2.67,-3.68 -1.17,-3.61" fill="#1e1890" stroke="#141066" stroke-width="0.9" stroke-linejoin="round"/><circle cx="-0.3" cy="-0.4" r="2.4" fill="#2820a8" opacity="0.85"/></g>
<g transform="translate(118,355)"><polygon points="0.00,-4.55 1.17,-3.61 2.67,-3.68 3.07,-2.23 4.33,-1.41 3.80,0.00 4.33,1.41 3.07,2.23 2.67,3.68 1.17,3.61 0.00,4.55 -1.17,3.61 -2.67,3.68 -3.07,2.23 -4.33,1.41 -3.80,0.00 -4.33,-1.41 -3.07,-2.23 -2.67,-3.68 -1.17,-3.61" fill="#1e1890" stroke="#141066" stroke-width="0.9" stroke-linejoin="round"/><circle cx="-0.3" cy="-0.4" r="2.4" fill="#2820a8" opacity="0.85"/></g>
<g transform="translate(134.3,349.8)"><polygon points="0.00,-4.55 1.17,-3.61 2.67,-3.68 3.07,-2.23 4.33,-1.41 3.80,0.00 4.33,1.41 3.07,2.23 2.67,3.68 1.17,3.61 0.00,4.55 -1.17,3.61 -2.67,3.68 -3.07,2.23 -4.33,1.41 -3.80,0.00 -4.33,-1.41 -3.07,-2.23 -2.67,-3.68 -1.17,-3.61" fill="#1e1890" stroke="#141066" stroke-width="0.9" stroke-linejoin="round"/><circle cx="-0.3" cy="-0.4" r="2.4" fill="#2820a8" opacity="0.85"/></g>
<g transform="translate(108.3,370.6)"><polygon points="0.00,-4.55 1.17,-3.61 2.67,-3.68 3.07,-2.23 4.33,-1.41 3.80,0.00 4.33,1.41 3.07,2.23 2.67,3.68 1.17,3.61 0.00,4.55 -1.17,3.61 -2.67,3.68 -3.07,2.23 -4.33,1.41 -3.80,0.00 -4.33,-1.41 -3.07,-2.23 -2.67,-3.68 -1.17,-3.61" fill="#1e1890" stroke="#141066" stroke-width="0.9" stroke-linejoin="round"/><circle cx="-0.3" cy="-0.4" r="2.4" fill="#2820a8" opacity="0.85"/></g>
<g transform="translate(107.6,373.5)"><polygon points="0.00,-4.55 1.17,-3.61 2.67,-3.68 3.07,-2.23 4.33,-1.41 3.80,0.00 4.33,1.41 3.07,2.23 2.67,3.68 1.17,3.61 0.00,4.55 -1.17,3.61 -2.67,3.68 -3.07,2.23 -4.33,1.41 -3.80,0.00 -4.33,-1.41 -3.07,-2.23 -2.67,-3.68 -1.17,-3.61" fill="#1e1890" stroke="#141066" stroke-width="0.9" stroke-linejoin="round"/><circle cx="-0.3" cy="-0.4" r="2.4" fill="#2820a8" opacity="0.85"/></g>
<g transform="translate(104.6,380.2)"><polygon points="0.00,-4.55 1.17,-3.61 2.67,-3.68 3.07,-2.23 4.33,-1.41 3.80,0.00 4.33,1.41 3.07,2.23 2.67,3.68 1.17,3.61 0.00,4.55 -1.17,3.61 -2.67,3.68 -3.07,2.23 -4.33,1.41 -3.80,0.00 -4.33,-1.41 -3.07,-2.23 -2.67,-3.68 -1.17,-3.61" fill="#1e1890" stroke="#141066" stroke-width="0.9" stroke-linejoin="round"/><circle cx="-0.3" cy="-0.4" r="2.4" fill="#2820a8" opacity="0.85"/></g>
<g transform="translate(114.3,380.2)"><polygon points="0.00,-4.55 1.17,-3.61 2.67,-3.68 3.07,-2.23 4.33,-1.41 3.80,0.00 4.33,1.41 3.07,2.23 2.67,3.68 1.17,3.61 0.00,4.55 -1.17,3.61 -2.67,3.68 -3.07,2.23 -4.33,1.41 -3.80,0.00 -4.33,-1.41 -3.07,-2.23 -2.67,-3.68 -1.17,-3.61" fill="#1e1890" stroke="#141066" stroke-width="0.9" stroke-linejoin="round"/><circle cx="-0.3" cy="-0.4" r="2.4" fill="#2820a8" opacity="0.85"/></g>
<g transform="translate(120.9,383.1)"><polygon points="0.00,-4.55 1.17,-3.61 2.67,-3.68 3.07,-2.23 4.33,-1.41 3.80,0.00 4.33,1.41 3.07,2.23 2.67,3.68 1.17,3.61 0.00,4.55 -1.17,3.61 -2.67,3.68 -3.07,2.23 -4.33,1.41 -3.80,0.00 -4.33,-1.41 -3.07,-2.23 -2.67,-3.68 -1.17,-3.61" fill="#1e1890" stroke="#141066" stroke-width="0.9" stroke-linejoin="round"/><circle cx="-0.3" cy="-0.4" r="2.4" fill="#2820a8" opacity="0.85"/></g>
<g transform="translate(127.6,377.2)"><polygon points="0.00,-4.55 1.17,-3.61 2.67,-3.68 3.07,-2.23 4.33,-1.41 3.80,0.00 4.33,1.41 3.07,2.23 2.67,3.68 1.17,3.61 0.00,4.55 -1.17,3.61 -2.67,3.68 -3.07,2.23 -4.33,1.41 -3.80,0.00 -4.33,-1.41 -3.07,-2.23 -2.67,-3.68 -1.17,-3.61" fill="#1e1890" stroke="#141066" stroke-width="0.9" stroke-linejoin="round"/><circle cx="-0.3" cy="-0.4" r="2.4" fill="#2820a8" opacity="0.85"/></g>
<g transform="translate(137.2,381.7)"><polygon points="0.00,-4.55 1.17,-3.61 2.67,-3.68 3.07,-2.23 4.33,-1.41 3.80,0.00 4.33,1.41 3.07,2.23 2.67,3.68 1.17,3.61 0.00,4.55 -1.17,3.61 -2.67,3.68 -3.07,2.23 -4.33,1.41 -3.80,0.00 -4.33,-1.41 -3.07,-2.23 -2.67,-3.68 -1.17,-3.61" fill="#1e1890" stroke="#141066" stroke-width="0.9" stroke-linejoin="round"/><circle cx="-0.3" cy="-0.4" r="2.4" fill="#2820a8" opacity="0.85"/></g>
<g transform="translate(152.5,382.4)"><polygon points="0.00,-4.55 1.17,-3.61 2.67,-3.68 3.07,-2.23 4.33,-1.41 3.80,0.00 4.33,1.41 3.07,2.23 2.67,3.68 1.17,3.61 0.00,4.55 -1.17,3.61 -2.67,3.68 -3.07,2.23 -4.33,1.41 -3.80,0.00 -4.33,-1.41 -3.07,-2.23 -2.67,-3.68 -1.17,-3.61" fill="#1e1890" stroke="#141066" stroke-width="0.9" stroke-linejoin="round"/><circle cx="-0.3" cy="-0.4" r="2.4" fill="#2820a8" opacity="0.85"/></g>
<g transform="translate(72,386.9)"><polygon points="0.00,-4.55 1.17,-3.61 2.67,-3.68 3.07,-2.23 4.33,-1.41 3.80,0.00 4.33,1.41 3.07,2.23 2.67,3.68 1.17,3.61 0.00,4.55 -1.17,3.61 -2.67,3.68 -3.07,2.23 -4.33,1.41 -3.80,0.00 -4.33,-1.41 -3.07,-2.23 -2.67,-3.68 -1.17,-3.61" fill="#1e1890" stroke="#141066" stroke-width="0.9" stroke-linejoin="round"/><circle cx="-0.3" cy="-0.4" r="2.4" fill="#2820a8" opacity="0.85"/></g>
<g transform="translate(111.3,394.3)"><polygon points="0.00,-4.55 1.17,-3.61 2.67,-3.68 3.07,-2.23 4.33,-1.41 3.80,0.00 4.33,1.41 3.07,2.23 2.67,3.68 1.17,3.61 0.00,4.55 -1.17,3.61 -2.67,3.68 -3.07,2.23 -4.33,1.41 -3.80,0.00 -4.33,-1.41 -3.07,-2.23 -2.67,-3.68 -1.17,-3.61" fill="#1e1890" stroke="#141066" stroke-width="0.9" stroke-linejoin="round"/><circle cx="-0.3" cy="-0.4" r="2.4" fill="#2820a8" opacity="0.85"/></g>
<g transform="translate(120.2,392.8)"><polygon points="0.00,-4.55 1.17,-3.61 2.67,-3.68 3.07,-2.23 4.33,-1.41 3.80,0.00 4.33,1.41 3.07,2.23 2.67,3.68 1.17,3.61 0.00,4.55 -1.17,3.61 -2.67,3.68 -3.07,2.23 -4.33,1.41 -3.80,0.00 -4.33,-1.41 -3.07,-2.23 -2.67,-3.68 -1.17,-3.61" fill="#1e1890" stroke="#141066" stroke-width="0.9" stroke-linejoin="round"/><circle cx="-0.3" cy="-0.4" r="2.4" fill="#2820a8" opacity="0.85"/></g>
<g transform="translate(115.7,399.4)"><polygon points="0.00,-4.55 1.17,-3.61 2.67,-3.68 3.07,-2.23 4.33,-1.41 3.80,0.00 4.33,1.41 3.07,2.23 2.67,3.68 1.17,3.61 0.00,4.55 -1.17,3.61 -2.67,3.68 -3.07,2.23 -4.33,1.41 -3.80,0.00 -4.33,-1.41 -3.07,-2.23 -2.67,-3.68 -1.17,-3.61" fill="#1e1890" stroke="#141066" stroke-width="0.9" stroke-linejoin="round"/><circle cx="-0.3" cy="-0.4" r="2.4" fill="#2820a8" opacity="0.85"/></g>
<g transform="translate(129.1,398)"><polygon points="0.00,-4.55 1.17,-3.61 2.67,-3.68 3.07,-2.23 4.33,-1.41 3.80,0.00 4.33,1.41 3.07,2.23 2.67,3.68 1.17,3.61 0.00,4.55 -1.17,3.61 -2.67,3.68 -3.07,2.23 -4.33,1.41 -3.80,0.00 -4.33,-1.41 -3.07,-2.23 -2.67,-3.68 -1.17,-3.61" fill="#1e1890" stroke="#141066" stroke-width="0.9" stroke-linejoin="round"/><circle cx="-0.3" cy="-0.4" r="2.4" fill="#2820a8" opacity="0.85"/></g>
<g transform="translate(65,420.7)"><polygon points="0.00,-4.55 1.17,-3.61 2.67,-3.68 3.07,-2.23 4.33,-1.41 3.80,0.00 4.33,1.41 3.07,2.23 2.67,3.68 1.17,3.61 0.00,4.55 -1.17,3.61 -2.67,3.68 -3.07,2.23 -4.33,1.41 -3.80,0.00 -4.33,-1.41 -3.07,-2.23 -2.67,-3.68 -1.17,-3.61" fill="#1e1890" stroke="#141066" stroke-width="0.9" stroke-linejoin="round"/><circle cx="-0.3" cy="-0.4" r="2.4" fill="#2820a8" opacity="0.85"/></g>
<g transform="translate(72.3,419.3)"><polygon points="0.00,-4.55 1.17,-3.61 2.67,-3.68 3.07,-2.23 4.33,-1.41 3.80,0.00 4.33,1.41 3.07,2.23 2.67,3.68 1.17,3.61 0.00,4.55 -1.17,3.61 -2.67,3.68 -3.07,2.23 -4.33,1.41 -3.80,0.00 -4.33,-1.41 -3.07,-2.23 -2.67,-3.68 -1.17,-3.61" fill="#1e1890" stroke="#141066" stroke-width="0.9" stroke-linejoin="round"/><circle cx="-0.3" cy="-0.4" r="2.4" fill="#2820a8" opacity="0.85"/></g>
<g transform="translate(71.7,434.9)"><polygon points="0.00,-4.55 1.17,-3.61 2.67,-3.68 3.07,-2.23 4.33,-1.41 3.80,0.00 4.33,1.41 3.07,2.23 2.67,3.68 1.17,3.61 0.00,4.55 -1.17,3.61 -2.67,3.68 -3.07,2.23 -4.33,1.41 -3.80,0.00 -4.33,-1.41 -3.07,-2.23 -2.67,-3.68 -1.17,-3.61" fill="#1e1890" stroke="#141066" stroke-width="0.9" stroke-linejoin="round"/><circle cx="-0.3" cy="-0.4" r="2.4" fill="#2820a8" opacity="0.85"/></g>
<g transform="translate(92.8,439.6)"><polygon points="0.00,-4.55 1.17,-3.61 2.67,-3.68 3.07,-2.23 4.33,-1.41 3.80,0.00 4.33,1.41 3.07,2.23 2.67,3.68 1.17,3.61 0.00,4.55 -1.17,3.61 -2.67,3.68 -3.07,2.23 -4.33,1.41 -3.80,0.00 -4.33,-1.41 -3.07,-2.23 -2.67,-3.68 -1.17,-3.61" fill="#1e1890" stroke="#141066" stroke-width="0.9" stroke-linejoin="round"/><circle cx="-0.3" cy="-0.4" r="2.4" fill="#2820a8" opacity="0.85"/></g>
<g transform="translate(161.1,364.3)"><polygon points="0.00,-4.55 1.17,-3.61 2.67,-3.68 3.07,-2.23 4.33,-1.41 3.80,0.00 4.33,1.41 3.07,2.23 2.67,3.68 1.17,3.61 0.00,4.55 -1.17,3.61 -2.67,3.68 -3.07,2.23 -4.33,1.41 -3.80,0.00 -4.33,-1.41 -3.07,-2.23 -2.67,-3.68 -1.17,-3.61" fill="#1e1890" stroke="#141066" stroke-width="0.9" stroke-linejoin="round"/><circle cx="-0.3" cy="-0.4" r="2.4" fill="#2820a8" opacity="0.85"/></g>
<g transform="translate(167.8,371.3)"><polygon points="0.00,-4.55 1.17,-3.61 2.67,-3.68 3.07,-2.23 4.33,-1.41 3.80,0.00 4.33,1.41 3.07,2.23 2.67,3.68 1.17,3.61 0.00,4.55 -1.17,3.61 -2.67,3.68 -3.07,2.23 -4.33,1.41 -3.80,0.00 -4.33,-1.41 -3.07,-2.23 -2.67,-3.68 -1.17,-3.61" fill="#1e1890" stroke="#141066" stroke-width="0.9" stroke-linejoin="round"/><circle cx="-0.3" cy="-0.4" r="2.4" fill="#2820a8" opacity="0.85"/></g>
<g transform="translate(163,391)"><polygon points="0.00,-4.55 1.17,-3.61 2.67,-3.68 3.07,-2.23 4.33,-1.41 3.80,0.00 4.33,1.41 3.07,2.23 2.67,3.68 1.17,3.61 0.00,4.55 -1.17,3.61 -2.67,3.68 -3.07,2.23 -4.33,1.41 -3.80,0.00 -4.33,-1.41 -3.07,-2.23 -2.67,-3.68 -1.17,-3.61" fill="#1e1890" stroke="#141066" stroke-width="0.9" stroke-linejoin="round"/><circle cx="-0.3" cy="-0.4" r="2.4" fill="#2820a8" opacity="0.85"/></g>
<g transform="translate(163,397.2)"><polygon points="0.00,-4.55 1.17,-3.61 2.67,-3.68 3.07,-2.23 4.33,-1.41 3.80,0.00 4.33,1.41 3.07,2.23 2.67,3.68 1.17,3.61 0.00,4.55 -1.17,3.61 -2.67,3.68 -3.07,2.23 -4.33,1.41 -3.80,0.00 -4.33,-1.41 -3.07,-2.23 -2.67,-3.68 -1.17,-3.61" fill="#1e1890" stroke="#141066" stroke-width="0.9" stroke-linejoin="round"/><circle cx="-0.3" cy="-0.4" r="2.4" fill="#2820a8" opacity="0.85"/></g>
<g transform="translate(188.5,392)"><polygon points="0.00,-4.55 1.17,-3.61 2.67,-3.68 3.07,-2.23 4.33,-1.41 3.80,0.00 4.33,1.41 3.07,2.23 2.67,3.68 1.17,3.61 0.00,4.55 -1.17,3.61 -2.67,3.68 -3.07,2.23 -4.33,1.41 -3.80,0.00 -4.33,-1.41 -3.07,-2.23 -2.67,-3.68 -1.17,-3.61" fill="#1e1890" stroke="#141066" stroke-width="0.9" stroke-linejoin="round"/><circle cx="-0.3" cy="-0.4" r="2.4" fill="#2820a8" opacity="0.85"/></g>
<g transform="translate(209.3,390.1)"><polygon points="0.00,-4.55 1.17,-3.61 2.67,-3.68 3.07,-2.23 4.33,-1.41 3.80,0.00 4.33,1.41 3.07,2.23 2.67,3.68 1.17,3.61 0.00,4.55 -1.17,3.61 -2.67,3.68 -3.07,2.23 -4.33,1.41 -3.80,0.00 -4.33,-1.41 -3.07,-2.23 -2.67,-3.68 -1.17,-3.61" fill="#1e1890" stroke="#141066" stroke-width="0.9" stroke-linejoin="round"/><circle cx="-0.3" cy="-0.4" r="2.4" fill="#2820a8" opacity="0.85"/></g>
<g transform="translate(198.1,402.9)"><polygon points="0.00,-4.55 1.17,-3.61 2.67,-3.68 3.07,-2.23 4.33,-1.41 3.80,0.00 4.33,1.41 3.07,2.23 2.67,3.68 1.17,3.61 0.00,4.55 -1.17,3.61 -2.67,3.68 -3.07,2.23 -4.33,1.41 -3.80,0.00 -4.33,-1.41 -3.07,-2.23 -2.67,-3.68 -1.17,-3.61" fill="#1e1890" stroke="#141066" stroke-width="0.9" stroke-linejoin="round"/><circle cx="-0.3" cy="-0.4" r="2.4" fill="#2820a8" opacity="0.85"/></g>
<g transform="translate(206.3,400.9)"><polygon points="0.00,-4.55 1.17,-3.61 2.67,-3.68 3.07,-2.23 4.33,-1.41 3.80,0.00 4.33,1.41 3.07,2.23 2.67,3.68 1.17,3.61 0.00,4.55 -1.17,3.61 -2.67,3.68 -3.07,2.23 -4.33,1.41 -3.80,0.00 -4.33,-1.41 -3.07,-2.23 -2.67,-3.68 -1.17,-3.61" fill="#1e1890" stroke="#141066" stroke-width="0.9" stroke-linejoin="round"/><circle cx="-0.3" cy="-0.4" r="2.4" fill="#2820a8" opacity="0.85"/></g>
<g transform="translate(222.3,398)"><polygon points="0.00,-4.55 1.17,-3.61 2.67,-3.68 3.07,-2.23 4.33,-1.41 3.80,0.00 4.33,1.41 3.07,2.23 2.67,3.68 1.17,3.61 0.00,4.55 -1.17,3.61 -2.67,3.68 -3.07,2.23 -4.33,1.41 -3.80,0.00 -4.33,-1.41 -3.07,-2.23 -2.67,-3.68 -1.17,-3.61" fill="#1e1890" stroke="#141066" stroke-width="0.9" stroke-linejoin="round"/><circle cx="-0.3" cy="-0.4" r="2.4" fill="#2820a8" opacity="0.85"/></g>
<g transform="translate(231.5,374.3)"><polygon points="0.00,-4.55 1.17,-3.61 2.67,-3.68 3.07,-2.23 4.33,-1.41 3.80,0.00 4.33,1.41 3.07,2.23 2.67,3.68 1.17,3.61 0.00,4.55 -1.17,3.61 -2.67,3.68 -3.07,2.23 -4.33,1.41 -3.80,0.00 -4.33,-1.41 -3.07,-2.23 -2.67,-3.68 -1.17,-3.61" fill="#1e1890" stroke="#141066" stroke-width="0.9" stroke-linejoin="round"/><circle cx="-0.3" cy="-0.4" r="2.4" fill="#2820a8" opacity="0.85"/></g>
<g transform="translate(222.3,422.1)"><polygon points="0.00,-4.55 1.17,-3.61 2.67,-3.68 3.07,-2.23 4.33,-1.41 3.80,0.00 4.33,1.41 3.07,2.23 2.67,3.68 1.17,3.61 0.00,4.55 -1.17,3.61 -2.67,3.68 -3.07,2.23 -4.33,1.41 -3.80,0.00 -4.33,-1.41 -3.07,-2.23 -2.67,-3.68 -1.17,-3.61" fill="#1e1890" stroke="#141066" stroke-width="0.9" stroke-linejoin="round"/><circle cx="-0.3" cy="-0.4" r="2.4" fill="#2820a8" opacity="0.85"/></g>
<g transform="translate(248.5,431.3)"><polygon points="0.00,-4.55 1.17,-3.61 2.67,-3.68 3.07,-2.23 4.33,-1.41 3.80,0.00 4.33,1.41 3.07,2.23 2.67,3.68 1.17,3.61 0.00,4.55 -1.17,3.61 -2.67,3.68 -3.07,2.23 -4.33,1.41 -3.80,0.00 -4.33,-1.41 -3.07,-2.23 -2.67,-3.68 -1.17,-3.61" fill="#1e1890" stroke="#141066" stroke-width="0.9" stroke-linejoin="round"/><circle cx="-0.3" cy="-0.4" r="2.4" fill="#2820a8" opacity="0.85"/></g>
<g transform="translate(267,364.6)"><polygon points="0.00,-4.55 1.17,-3.61 2.67,-3.68 3.07,-2.23 4.33,-1.41 3.80,0.00 4.33,1.41 3.07,2.23 2.67,3.68 1.17,3.61 0.00,4.55 -1.17,3.61 -2.67,3.68 -3.07,2.23 -4.33,1.41 -3.80,0.00 -4.33,-1.41 -3.07,-2.23 -2.67,-3.68 -1.17,-3.61" fill="#1e1890" stroke="#141066" stroke-width="0.9" stroke-linejoin="round"/><circle cx="-0.3" cy="-0.4" r="2.4" fill="#2820a8" opacity="0.85"/></g>
<g transform="translate(291.1,393.2)"><polygon points="0.00,-4.55 1.17,-3.61 2.67,-3.68 3.07,-2.23 4.33,-1.41 3.80,0.00 4.33,1.41 3.07,2.23 2.67,3.68 1.17,3.61 0.00,4.55 -1.17,3.61 -2.67,3.68 -3.07,2.23 -4.33,1.41 -3.80,0.00 -4.33,-1.41 -3.07,-2.23 -2.67,-3.68 -1.17,-3.61" fill="#1e1890" stroke="#141066" stroke-width="0.9" stroke-linejoin="round"/><circle cx="-0.3" cy="-0.4" r="2.4" fill="#2820a8" opacity="0.85"/></g>
<g transform="translate(313.6,386.6)"><polygon points="0.00,-4.55 1.17,-3.61 2.67,-3.68 3.07,-2.23 4.33,-1.41 3.80,0.00 4.33,1.41 3.07,2.23 2.67,3.68 1.17,3.61 0.00,4.55 -1.17,3.61 -2.67,3.68 -3.07,2.23 -4.33,1.41 -3.80,0.00 -4.33,-1.41 -3.07,-2.23 -2.67,-3.68 -1.17,-3.61" fill="#1e1890" stroke="#141066" stroke-width="0.9" stroke-linejoin="round"/><circle cx="-0.3" cy="-0.4" r="2.4" fill="#2820a8" opacity="0.85"/></g>
<g transform="translate(255.6,406.4)"><polygon points="0.00,-4.55 1.17,-3.61 2.67,-3.68 3.07,-2.23 4.33,-1.41 3.80,0.00 4.33,1.41 3.07,2.23 2.67,3.68 1.17,3.61 0.00,4.55 -1.17,3.61 -2.67,3.68 -3.07,2.23 -4.33,1.41 -3.80,0.00 -4.33,-1.41 -3.07,-2.23 -2.67,-3.68 -1.17,-3.61" fill="#1e1890" stroke="#141066" stroke-width="0.9" stroke-linejoin="round"/><circle cx="-0.3" cy="-0.4" r="2.4" fill="#2820a8" opacity="0.85"/></g>
<g transform="translate(287.4,405.8)"><polygon points="0.00,-4.55 1.17,-3.61 2.67,-3.68 3.07,-2.23 4.33,-1.41 3.80,0.00 4.33,1.41 3.07,2.23 2.67,3.68 1.17,3.61 0.00,4.55 -1.17,3.61 -2.67,3.68 -3.07,2.23 -4.33,1.41 -3.80,0.00 -4.33,-1.41 -3.07,-2.23 -2.67,-3.68 -1.17,-3.61" fill="#1e1890" stroke="#141066" stroke-width="0.9" stroke-linejoin="round"/><circle cx="-0.3" cy="-0.4" r="2.4" fill="#2820a8" opacity="0.85"/></g>
<g transform="translate(287.4,411.7)"><polygon points="0.00,-4.55 1.17,-3.61 2.67,-3.68 3.07,-2.23 4.33,-1.41 3.80,0.00 4.33,1.41 3.07,2.23 2.67,3.68 1.17,3.61 0.00,4.55 -1.17,3.61 -2.67,3.68 -3.07,2.23 -4.33,1.41 -3.80,0.00 -4.33,-1.41 -3.07,-2.23 -2.67,-3.68 -1.17,-3.61" fill="#1e1890" stroke="#141066" stroke-width="0.9" stroke-linejoin="round"/><circle cx="-0.3" cy="-0.4" r="2.4" fill="#2820a8" opacity="0.85"/></g>
<g transform="translate(301.9,415.7)"><polygon points="0.00,-4.55 1.17,-3.61 2.67,-3.68 3.07,-2.23 4.33,-1.41 3.80,0.00 4.33,1.41 3.07,2.23 2.67,3.68 1.17,3.61 0.00,4.55 -1.17,3.61 -2.67,3.68 -3.07,2.23 -4.33,1.41 -3.80,0.00 -4.33,-1.41 -3.07,-2.23 -2.67,-3.68 -1.17,-3.61" fill="#1e1890" stroke="#141066" stroke-width="0.9" stroke-linejoin="round"/><circle cx="-0.3" cy="-0.4" r="2.4" fill="#2820a8" opacity="0.85"/></g>
<g transform="translate(296,431.3)"><polygon points="0.00,-4.55 1.17,-3.61 2.67,-3.68 3.07,-2.23 4.33,-1.41 3.80,0.00 4.33,1.41 3.07,2.23 2.67,3.68 1.17,3.61 0.00,4.55 -1.17,3.61 -2.67,3.68 -3.07,2.23 -4.33,1.41 -3.80,0.00 -4.33,-1.41 -3.07,-2.23 -2.67,-3.68 -1.17,-3.61" fill="#1e1890" stroke="#141066" stroke-width="0.9" stroke-linejoin="round"/><circle cx="-0.3" cy="-0.4" r="2.4" fill="#2820a8" opacity="0.85"/></g>
<text x="0" y="0" font-size="10.6" text-anchor="middle" fill="#555" textLength="99.5" lengthAdjust="spacingAndGlyphs" transform="translate(22.6,390.3) rotate(-90)">shift amount (h)</text>
<path d="M413.6,280.2 H667.8 V505.5 H413.6" fill="none" stroke="#a2a2a2" stroke-width="1.8"/>
<line x1="413.6" y1="280.2" x2="413.6" y2="505.5" stroke="#111" stroke-width="1.8"/>
<line x1="407.6" y1="280.2" x2="413.6" y2="280.2" stroke="#111" stroke-width="1.4"/>
<text x="397" y="287" font-size="14" text-anchor="end" fill="#2a2a2a">12</text>
<line x1="407.6" y1="317.75" x2="413.6" y2="317.75" stroke="#111" stroke-width="1.4"/>
<text x="397" y="324.55" font-size="14" text-anchor="end" fill="#2a2a2a">8</text>
<line x1="407.6" y1="355.3" x2="413.6" y2="355.3" stroke="#111" stroke-width="1.4"/>
<text x="397" y="362.1" font-size="14" text-anchor="end" fill="#2a2a2a">4</text>
<line x1="407.6" y1="392.85" x2="413.6" y2="392.85" stroke="#111" stroke-width="1.4"/>
<text x="397" y="399.65" font-size="14" text-anchor="end" fill="#2a2a2a">0</text>
<line x1="407.6" y1="430.4" x2="413.6" y2="430.4" stroke="#111" stroke-width="1.4"/>
<text x="397" y="437.2" font-size="14" text-anchor="end" fill="#2a2a2a">-4</text>
<line x1="407.6" y1="467.95" x2="413.6" y2="467.95" stroke="#111" stroke-width="1.4"/>
<text x="397" y="474.75" font-size="14" text-anchor="end" fill="#2a2a2a">-8</text>
<line x1="407.6" y1="505.5" x2="413.6" y2="505.5" stroke="#111" stroke-width="1.4"/>
<text x="397" y="512.3" font-size="14" text-anchor="end" fill="#2a2a2a">-12</text>
<text x="411.1" y="529.8" font-size="14" text-anchor="middle" fill="#2a2a2a">0</text>
<text x="474.83" y="529.8" font-size="14" text-anchor="middle" fill="#2a2a2a">6</text>
<text x="538.55" y="529.8" font-size="14" text-anchor="middle" fill="#2a2a2a">12</text>
<text x="602.27" y="529.8" font-size="14" text-anchor="middle" fill="#2a2a2a">18</text>
<text x="666" y="529.8" font-size="14" text-anchor="middle" fill="#2a2a2a">24</text>
<line x1="413.6" y1="392.85" x2="667.8" y2="392.85" stroke="#111" stroke-width="2"/>
<line x1="477.15" y1="388.85" x2="477.15" y2="392.85" stroke="#111" stroke-width="1.2"/>
<line x1="540.7" y1="388.85" x2="540.7" y2="392.85" stroke="#111" stroke-width="1.2"/>
<line x1="604.25" y1="388.85" x2="604.25" y2="392.85" stroke="#111" stroke-width="1.2"/>
<line x1="667.8" y1="388.85" x2="667.8" y2="392.85" stroke="#111" stroke-width="1.2"/>
<g transform="translate(455.4,324.4)"><polygon points="0.00,-4.55 1.17,-3.61 2.67,-3.68 3.07,-2.23 4.33,-1.41 3.80,0.00 4.33,1.41 3.07,2.23 2.67,3.68 1.17,3.61 0.00,4.55 -1.17,3.61 -2.67,3.68 -3.07,2.23 -4.33,1.41 -3.80,0.00 -4.33,-1.41 -3.07,-2.23 -2.67,-3.68 -1.17,-3.61" fill="#b8140c" stroke="#8c0e0a" stroke-width="0.9" stroke-linejoin="round"/><circle cx="-0.3" cy="-0.4" r="2.4" fill="#d41c0e" opacity="0.85"/></g>
<g transform="translate(466.9,323)"><polygon points="0.00,-4.55 1.17,-3.61 2.67,-3.68 3.07,-2.23 4.33,-1.41 3.80,0.00 4.33,1.41 3.07,2.23 2.67,3.68 1.17,3.61 0.00,4.55 -1.17,3.61 -2.67,3.68 -3.07,2.23 -4.33,1.41 -3.80,0.00 -4.33,-1.41 -3.07,-2.23 -2.67,-3.68 -1.17,-3.61" fill="#b8140c" stroke="#8c0e0a" stroke-width="0.9" stroke-linejoin="round"/><circle cx="-0.3" cy="-0.4" r="2.4" fill="#d41c0e" opacity="0.85"/></g>
<g transform="translate(487.7,313.3)"><polygon points="0.00,-4.55 1.17,-3.61 2.67,-3.68 3.07,-2.23 4.33,-1.41 3.80,0.00 4.33,1.41 3.07,2.23 2.67,3.68 1.17,3.61 0.00,4.55 -1.17,3.61 -2.67,3.68 -3.07,2.23 -4.33,1.41 -3.80,0.00 -4.33,-1.41 -3.07,-2.23 -2.67,-3.68 -1.17,-3.61" fill="#b8140c" stroke="#8c0e0a" stroke-width="0.9" stroke-linejoin="round"/><circle cx="-0.3" cy="-0.4" r="2.4" fill="#d41c0e" opacity="0.85"/></g>
<g transform="translate(506.2,295.8)"><polygon points="0.00,-4.55 1.17,-3.61 2.67,-3.68 3.07,-2.23 4.33,-1.41 3.80,0.00 4.33,1.41 3.07,2.23 2.67,3.68 1.17,3.61 0.00,4.55 -1.17,3.61 -2.67,3.68 -3.07,2.23 -4.33,1.41 -3.80,0.00 -4.33,-1.41 -3.07,-2.23 -2.67,-3.68 -1.17,-3.61" fill="#b8140c" stroke="#8c0e0a" stroke-width="0.9" stroke-linejoin="round"/><circle cx="-0.3" cy="-0.4" r="2.4" fill="#d41c0e" opacity="0.85"/></g>
<g transform="translate(486.2,351.9)"><polygon points="0.00,-4.55 1.17,-3.61 2.67,-3.68 3.07,-2.23 4.33,-1.41 3.80,0.00 4.33,1.41 3.07,2.23 2.67,3.68 1.17,3.61 0.00,4.55 -1.17,3.61 -2.67,3.68 -3.07,2.23 -4.33,1.41 -3.80,0.00 -4.33,-1.41 -3.07,-2.23 -2.67,-3.68 -1.17,-3.61" fill="#b8140c" stroke="#8c0e0a" stroke-width="0.9" stroke-linejoin="round"/><circle cx="-0.3" cy="-0.4" r="2.4" fill="#d41c0e" opacity="0.85"/></g>
<g transform="translate(466.9,361.2)"><polygon points="0.00,-4.55 1.17,-3.61 2.67,-3.68 3.07,-2.23 4.33,-1.41 3.80,0.00 4.33,1.41 3.07,2.23 2.67,3.68 1.17,3.61 0.00,4.55 -1.17,3.61 -2.67,3.68 -3.07,2.23 -4.33,1.41 -3.80,0.00 -4.33,-1.41 -3.07,-2.23 -2.67,-3.68 -1.17,-3.61" fill="#b8140c" stroke="#8c0e0a" stroke-width="0.9" stroke-linejoin="round"/><circle cx="-0.3" cy="-0.4" r="2.4" fill="#d41c0e" opacity="0.85"/></g>
<g transform="translate(485.7,364.4)"><polygon points="0.00,-4.55 1.17,-3.61 2.67,-3.68 3.07,-2.23 4.33,-1.41 3.80,0.00 4.33,1.41 3.07,2.23 2.67,3.68 1.17,3.61 0.00,4.55 -1.17,3.61 -2.67,3.68 -3.07,2.23 -4.33,1.41 -3.80,0.00 -4.33,-1.41 -3.07,-2.23 -2.67,-3.68 -1.17,-3.61" fill="#b8140c" stroke="#8c0e0a" stroke-width="0.9" stroke-linejoin="round"/><circle cx="-0.3" cy="-0.4" r="2.4" fill="#d41c0e" opacity="0.85"/></g>
<g transform="translate(490.9,362.2)"><polygon points="0.00,-4.55 1.17,-3.61 2.67,-3.68 3.07,-2.23 4.33,-1.41 3.80,0.00 4.33,1.41 3.07,2.23 2.67,3.68 1.17,3.61 0.00,4.55 -1.17,3.61 -2.67,3.68 -3.07,2.23 -4.33,1.41 -3.80,0.00 -4.33,-1.41 -3.07,-2.23 -2.67,-3.68 -1.17,-3.61" fill="#b8140c" stroke="#8c0e0a" stroke-width="0.9" stroke-linejoin="round"/><circle cx="-0.3" cy="-0.4" r="2.4" fill="#d41c0e" opacity="0.85"/></g>
<g transform="translate(472.6,378.9)"><polygon points="0.00,-4.55 1.17,-3.61 2.67,-3.68 3.07,-2.23 4.33,-1.41 3.80,0.00 4.33,1.41 3.07,2.23 2.67,3.68 1.17,3.61 0.00,4.55 -1.17,3.61 -2.67,3.68 -3.07,2.23 -4.33,1.41 -3.80,0.00 -4.33,-1.41 -3.07,-2.23 -2.67,-3.68 -1.17,-3.61" fill="#b8140c" stroke="#8c0e0a" stroke-width="0.9" stroke-linejoin="round"/><circle cx="-0.3" cy="-0.4" r="2.4" fill="#d41c0e" opacity="0.85"/></g>
<g transform="translate(510.1,318.2)"><polygon points="0.00,-4.55 1.17,-3.61 2.67,-3.68 3.07,-2.23 4.33,-1.41 3.80,0.00 4.33,1.41 3.07,2.23 2.67,3.68 1.17,3.61 0.00,4.55 -1.17,3.61 -2.67,3.68 -3.07,2.23 -4.33,1.41 -3.80,0.00 -4.33,-1.41 -3.07,-2.23 -2.67,-3.68 -1.17,-3.61" fill="#b8140c" stroke="#8c0e0a" stroke-width="0.9" stroke-linejoin="round"/><circle cx="-0.3" cy="-0.4" r="2.4" fill="#d41c0e" opacity="0.85"/></g>
<g transform="translate(511.6,345.2)"><polygon points="0.00,-4.55 1.17,-3.61 2.67,-3.68 3.07,-2.23 4.33,-1.41 3.80,0.00 4.33,1.41 3.07,2.23 2.67,3.68 1.17,3.61 0.00,4.55 -1.17,3.61 -2.67,3.68 -3.07,2.23 -4.33,1.41 -3.80,0.00 -4.33,-1.41 -3.07,-2.23 -2.67,-3.68 -1.17,-3.61" fill="#b8140c" stroke="#8c0e0a" stroke-width="0.9" stroke-linejoin="round"/><circle cx="-0.3" cy="-0.4" r="2.4" fill="#d41c0e" opacity="0.85"/></g>
<g transform="translate(530.8,358.1)"><polygon points="0.00,-4.55 1.17,-3.61 2.67,-3.68 3.07,-2.23 4.33,-1.41 3.80,0.00 4.33,1.41 3.07,2.23 2.67,3.68 1.17,3.61 0.00,4.55 -1.17,3.61 -2.67,3.68 -3.07,2.23 -4.33,1.41 -3.80,0.00 -4.33,-1.41 -3.07,-2.23 -2.67,-3.68 -1.17,-3.61" fill="#b8140c" stroke="#8c0e0a" stroke-width="0.9" stroke-linejoin="round"/><circle cx="-0.3" cy="-0.4" r="2.4" fill="#d41c0e" opacity="0.85"/></g>
<g transform="translate(538.8,367.3)"><polygon points="0.00,-4.55 1.17,-3.61 2.67,-3.68 3.07,-2.23 4.33,-1.41 3.80,0.00 4.33,1.41 3.07,2.23 2.67,3.68 1.17,3.61 0.00,4.55 -1.17,3.61 -2.67,3.68 -3.07,2.23 -4.33,1.41 -3.80,0.00 -4.33,-1.41 -3.07,-2.23 -2.67,-3.68 -1.17,-3.61" fill="#b8140c" stroke="#8c0e0a" stroke-width="0.9" stroke-linejoin="round"/><circle cx="-0.3" cy="-0.4" r="2.4" fill="#d41c0e" opacity="0.85"/></g>
<g transform="translate(570.8,367.5)"><polygon points="0.00,-4.55 1.17,-3.61 2.67,-3.68 3.07,-2.23 4.33,-1.41 3.80,0.00 4.33,1.41 3.07,2.23 2.67,3.68 1.17,3.61 0.00,4.55 -1.17,3.61 -2.67,3.68 -3.07,2.23 -4.33,1.41 -3.80,0.00 -4.33,-1.41 -3.07,-2.23 -2.67,-3.68 -1.17,-3.61" fill="#b8140c" stroke="#8c0e0a" stroke-width="0.9" stroke-linejoin="round"/><circle cx="-0.3" cy="-0.4" r="2.4" fill="#d41c0e" opacity="0.85"/></g>
<g transform="translate(511.6,379.5)"><polygon points="0.00,-4.55 1.17,-3.61 2.67,-3.68 3.07,-2.23 4.33,-1.41 3.80,0.00 4.33,1.41 3.07,2.23 2.67,3.68 1.17,3.61 0.00,4.55 -1.17,3.61 -2.67,3.68 -3.07,2.23 -4.33,1.41 -3.80,0.00 -4.33,-1.41 -3.07,-2.23 -2.67,-3.68 -1.17,-3.61" fill="#b8140c" stroke="#8c0e0a" stroke-width="0.9" stroke-linejoin="round"/><circle cx="-0.3" cy="-0.4" r="2.4" fill="#d41c0e" opacity="0.85"/></g>
<g transform="translate(582.2,378.2)"><polygon points="0.00,-4.55 1.17,-3.61 2.67,-3.68 3.07,-2.23 4.33,-1.41 3.80,0.00 4.33,1.41 3.07,2.23 2.67,3.68 1.17,3.61 0.00,4.55 -1.17,3.61 -2.67,3.68 -3.07,2.23 -4.33,1.41 -3.80,0.00 -4.33,-1.41 -3.07,-2.23 -2.67,-3.68 -1.17,-3.61" fill="#b8140c" stroke="#8c0e0a" stroke-width="0.9" stroke-linejoin="round"/><circle cx="-0.3" cy="-0.4" r="2.4" fill="#d41c0e" opacity="0.85"/></g>
<g transform="translate(561,381)"><polygon points="0.00,-4.55 1.17,-3.61 2.67,-3.68 3.07,-2.23 4.33,-1.41 3.80,0.00 4.33,1.41 3.07,2.23 2.67,3.68 1.17,3.61 0.00,4.55 -1.17,3.61 -2.67,3.68 -3.07,2.23 -4.33,1.41 -3.80,0.00 -4.33,-1.41 -3.07,-2.23 -2.67,-3.68 -1.17,-3.61" fill="#b8140c" stroke="#8c0e0a" stroke-width="0.9" stroke-linejoin="round"/><circle cx="-0.3" cy="-0.4" r="2.4" fill="#d41c0e" opacity="0.85"/></g>
<g transform="translate(535,381.5)"><polygon points="0.00,-4.55 1.17,-3.61 2.67,-3.68 3.07,-2.23 4.33,-1.41 3.80,0.00 4.33,1.41 3.07,2.23 2.67,3.68 1.17,3.61 0.00,4.55 -1.17,3.61 -2.67,3.68 -3.07,2.23 -4.33,1.41 -3.80,0.00 -4.33,-1.41 -3.07,-2.23 -2.67,-3.68 -1.17,-3.61" fill="#b8140c" stroke="#8c0e0a" stroke-width="0.9" stroke-linejoin="round"/><circle cx="-0.3" cy="-0.4" r="2.4" fill="#d41c0e" opacity="0.85"/></g>
<g transform="translate(426.9,419)"><polygon points="0.00,-4.55 1.17,-3.61 2.67,-3.68 3.07,-2.23 4.33,-1.41 3.80,0.00 4.33,1.41 3.07,2.23 2.67,3.68 1.17,3.61 0.00,4.55 -1.17,3.61 -2.67,3.68 -3.07,2.23 -4.33,1.41 -3.80,0.00 -4.33,-1.41 -3.07,-2.23 -2.67,-3.68 -1.17,-3.61" fill="#b8140c" stroke="#8c0e0a" stroke-width="0.9" stroke-linejoin="round"/><circle cx="-0.3" cy="-0.4" r="2.4" fill="#d41c0e" opacity="0.85"/></g>
<g transform="translate(446.2,443)"><polygon points="0.00,-4.55 1.17,-3.61 2.67,-3.68 3.07,-2.23 4.33,-1.41 3.80,0.00 4.33,1.41 3.07,2.23 2.67,3.68 1.17,3.61 0.00,4.55 -1.17,3.61 -2.67,3.68 -3.07,2.23 -4.33,1.41 -3.80,0.00 -4.33,-1.41 -3.07,-2.23 -2.67,-3.68 -1.17,-3.61" fill="#b8140c" stroke="#8c0e0a" stroke-width="0.9" stroke-linejoin="round"/><circle cx="-0.3" cy="-0.4" r="2.4" fill="#d41c0e" opacity="0.85"/></g>
<g transform="translate(417.3,447.7)"><polygon points="0.00,-4.55 1.17,-3.61 2.67,-3.68 3.07,-2.23 4.33,-1.41 3.80,0.00 4.33,1.41 3.07,2.23 2.67,3.68 1.17,3.61 0.00,4.55 -1.17,3.61 -2.67,3.68 -3.07,2.23 -4.33,1.41 -3.80,0.00 -4.33,-1.41 -3.07,-2.23 -2.67,-3.68 -1.17,-3.61" fill="#b8140c" stroke="#8c0e0a" stroke-width="0.9" stroke-linejoin="round"/><circle cx="-0.3" cy="-0.4" r="2.4" fill="#d41c0e" opacity="0.85"/></g>
<g transform="translate(418.9,457)"><polygon points="0.00,-4.55 1.17,-3.61 2.67,-3.68 3.07,-2.23 4.33,-1.41 3.80,0.00 4.33,1.41 3.07,2.23 2.67,3.68 1.17,3.61 0.00,4.55 -1.17,3.61 -2.67,3.68 -3.07,2.23 -4.33,1.41 -3.80,0.00 -4.33,-1.41 -3.07,-2.23 -2.67,-3.68 -1.17,-3.61" fill="#b8140c" stroke="#8c0e0a" stroke-width="0.9" stroke-linejoin="round"/><circle cx="-0.3" cy="-0.4" r="2.4" fill="#d41c0e" opacity="0.85"/></g>
<g transform="translate(446.1,455.7)"><polygon points="0.00,-4.55 1.17,-3.61 2.67,-3.68 3.07,-2.23 4.33,-1.41 3.80,0.00 4.33,1.41 3.07,2.23 2.67,3.68 1.17,3.61 0.00,4.55 -1.17,3.61 -2.67,3.68 -3.07,2.23 -4.33,1.41 -3.80,0.00 -4.33,-1.41 -3.07,-2.23 -2.67,-3.68 -1.17,-3.61" fill="#b8140c" stroke="#8c0e0a" stroke-width="0.9" stroke-linejoin="round"/><circle cx="-0.3" cy="-0.4" r="2.4" fill="#d41c0e" opacity="0.85"/></g>
<g transform="translate(425.2,484.5)"><polygon points="0.00,-4.55 1.17,-3.61 2.67,-3.68 3.07,-2.23 4.33,-1.41 3.80,0.00 4.33,1.41 3.07,2.23 2.67,3.68 1.17,3.61 0.00,4.55 -1.17,3.61 -2.67,3.68 -3.07,2.23 -4.33,1.41 -3.80,0.00 -4.33,-1.41 -3.07,-2.23 -2.67,-3.68 -1.17,-3.61" fill="#b8140c" stroke="#8c0e0a" stroke-width="0.9" stroke-linejoin="round"/><circle cx="-0.3" cy="-0.4" r="2.4" fill="#d41c0e" opacity="0.85"/></g>
<g transform="translate(574.1,386.7)"><polygon points="0.00,-4.55 1.17,-3.61 2.67,-3.68 3.07,-2.23 4.33,-1.41 3.80,0.00 4.33,1.41 3.07,2.23 2.67,3.68 1.17,3.61 0.00,4.55 -1.17,3.61 -2.67,3.68 -3.07,2.23 -4.33,1.41 -3.80,0.00 -4.33,-1.41 -3.07,-2.23 -2.67,-3.68 -1.17,-3.61" fill="#b8140c" stroke="#8c0e0a" stroke-width="0.9" stroke-linejoin="round"/><circle cx="-0.3" cy="-0.4" r="2.4" fill="#d41c0e" opacity="0.85"/></g>
<g transform="translate(585,393.6)"><polygon points="0.00,-4.55 1.17,-3.61 2.67,-3.68 3.07,-2.23 4.33,-1.41 3.80,0.00 4.33,1.41 3.07,2.23 2.67,3.68 1.17,3.61 0.00,4.55 -1.17,3.61 -2.67,3.68 -3.07,2.23 -4.33,1.41 -3.80,0.00 -4.33,-1.41 -3.07,-2.23 -2.67,-3.68 -1.17,-3.61" fill="#b8140c" stroke="#8c0e0a" stroke-width="0.9" stroke-linejoin="round"/><circle cx="-0.3" cy="-0.4" r="2.4" fill="#d41c0e" opacity="0.85"/></g>
<g transform="translate(607.4,381.9)"><polygon points="0.00,-4.55 1.17,-3.61 2.67,-3.68 3.07,-2.23 4.33,-1.41 3.80,0.00 4.33,1.41 3.07,2.23 2.67,3.68 1.17,3.61 0.00,4.55 -1.17,3.61 -2.67,3.68 -3.07,2.23 -4.33,1.41 -3.80,0.00 -4.33,-1.41 -3.07,-2.23 -2.67,-3.68 -1.17,-3.61" fill="#b8140c" stroke="#8c0e0a" stroke-width="0.9" stroke-linejoin="round"/><circle cx="-0.3" cy="-0.4" r="2.4" fill="#d41c0e" opacity="0.85"/></g>
<g transform="translate(620.1,399.8)"><polygon points="0.00,-4.55 1.17,-3.61 2.67,-3.68 3.07,-2.23 4.33,-1.41 3.80,0.00 4.33,1.41 3.07,2.23 2.67,3.68 1.17,3.61 0.00,4.55 -1.17,3.61 -2.67,3.68 -3.07,2.23 -4.33,1.41 -3.80,0.00 -4.33,-1.41 -3.07,-2.23 -2.67,-3.68 -1.17,-3.61" fill="#b8140c" stroke="#8c0e0a" stroke-width="0.9" stroke-linejoin="round"/><circle cx="-0.3" cy="-0.4" r="2.4" fill="#d41c0e" opacity="0.85"/></g>
<g transform="translate(624.3,401.9)"><polygon points="0.00,-4.55 1.17,-3.61 2.67,-3.68 3.07,-2.23 4.33,-1.41 3.80,0.00 4.33,1.41 3.07,2.23 2.67,3.68 1.17,3.61 0.00,4.55 -1.17,3.61 -2.67,3.68 -3.07,2.23 -4.33,1.41 -3.80,0.00 -4.33,-1.41 -3.07,-2.23 -2.67,-3.68 -1.17,-3.61" fill="#b8140c" stroke="#8c0e0a" stroke-width="0.9" stroke-linejoin="round"/><circle cx="-0.3" cy="-0.4" r="2.4" fill="#d41c0e" opacity="0.85"/></g>
<g transform="translate(667,441.1)"><polygon points="0.00,-4.55 1.17,-3.61 2.67,-3.68 3.07,-2.23 4.33,-1.41 3.80,0.00 4.33,1.41 3.07,2.23 2.67,3.68 1.17,3.61 0.00,4.55 -1.17,3.61 -2.67,3.68 -3.07,2.23 -4.33,1.41 -3.80,0.00 -4.33,-1.41 -3.07,-2.23 -2.67,-3.68 -1.17,-3.61" fill="#b8140c" stroke="#8c0e0a" stroke-width="0.9" stroke-linejoin="round"/><circle cx="-0.3" cy="-0.4" r="2.4" fill="#d41c0e" opacity="0.85"/></g>
<g transform="translate(658.8,450.7)"><polygon points="0.00,-4.55 1.17,-3.61 2.67,-3.68 3.07,-2.23 4.33,-1.41 3.80,0.00 4.33,1.41 3.07,2.23 2.67,3.68 1.17,3.61 0.00,4.55 -1.17,3.61 -2.67,3.68 -3.07,2.23 -4.33,1.41 -3.80,0.00 -4.33,-1.41 -3.07,-2.23 -2.67,-3.68 -1.17,-3.61" fill="#b8140c" stroke="#8c0e0a" stroke-width="0.9" stroke-linejoin="round"/><circle cx="-0.3" cy="-0.4" r="2.4" fill="#d41c0e" opacity="0.85"/></g>
<g transform="translate(658.8,458.7)"><polygon points="0.00,-4.55 1.17,-3.61 2.67,-3.68 3.07,-2.23 4.33,-1.41 3.80,0.00 4.33,1.41 3.07,2.23 2.67,3.68 1.17,3.61 0.00,4.55 -1.17,3.61 -2.67,3.68 -3.07,2.23 -4.33,1.41 -3.80,0.00 -4.33,-1.41 -3.07,-2.23 -2.67,-3.68 -1.17,-3.61" fill="#b8140c" stroke="#8c0e0a" stroke-width="0.9" stroke-linejoin="round"/><circle cx="-0.3" cy="-0.4" r="2.4" fill="#d41c0e" opacity="0.85"/></g>
<g transform="translate(652.1,461.9)"><polygon points="0.00,-4.55 1.17,-3.61 2.67,-3.68 3.07,-2.23 4.33,-1.41 3.80,0.00 4.33,1.41 3.07,2.23 2.67,3.68 1.17,3.61 0.00,4.55 -1.17,3.61 -2.67,3.68 -3.07,2.23 -4.33,1.41 -3.80,0.00 -4.33,-1.41 -3.07,-2.23 -2.67,-3.68 -1.17,-3.61" fill="#b8140c" stroke="#8c0e0a" stroke-width="0.9" stroke-linejoin="round"/><circle cx="-0.3" cy="-0.4" r="2.4" fill="#d41c0e" opacity="0.85"/></g>
<g transform="translate(637.7,465.3)"><polygon points="0.00,-4.55 1.17,-3.61 2.67,-3.68 3.07,-2.23 4.33,-1.41 3.80,0.00 4.33,1.41 3.07,2.23 2.67,3.68 1.17,3.61 0.00,4.55 -1.17,3.61 -2.67,3.68 -3.07,2.23 -4.33,1.41 -3.80,0.00 -4.33,-1.41 -3.07,-2.23 -2.67,-3.68 -1.17,-3.61" fill="#b8140c" stroke="#8c0e0a" stroke-width="0.9" stroke-linejoin="round"/><circle cx="-0.3" cy="-0.4" r="2.4" fill="#d41c0e" opacity="0.85"/></g>
<g transform="translate(658.8,478)"><polygon points="0.00,-4.55 1.17,-3.61 2.67,-3.68 3.07,-2.23 4.33,-1.41 3.80,0.00 4.33,1.41 3.07,2.23 2.67,3.68 1.17,3.61 0.00,4.55 -1.17,3.61 -2.67,3.68 -3.07,2.23 -4.33,1.41 -3.80,0.00 -4.33,-1.41 -3.07,-2.23 -2.67,-3.68 -1.17,-3.61" fill="#b8140c" stroke="#8c0e0a" stroke-width="0.9" stroke-linejoin="round"/><circle cx="-0.3" cy="-0.4" r="2.4" fill="#d41c0e" opacity="0.85"/></g>
<g transform="translate(435,377.2)"><polygon points="0.00,-4.55 1.17,-3.61 2.67,-3.68 3.07,-2.23 4.33,-1.41 3.80,0.00 4.33,1.41 3.07,2.23 2.67,3.68 1.17,3.61 0.00,4.55 -1.17,3.61 -2.67,3.68 -3.07,2.23 -4.33,1.41 -3.80,0.00 -4.33,-1.41 -3.07,-2.23 -2.67,-3.68 -1.17,-3.61" fill="#1e1890" stroke="#141066" stroke-width="0.9" stroke-linejoin="round"/><circle cx="-0.3" cy="-0.4" r="2.4" fill="#2820a8" opacity="0.85"/></g>
<g transform="translate(446.2,377.2)"><polygon points="0.00,-4.55 1.17,-3.61 2.67,-3.68 3.07,-2.23 4.33,-1.41 3.80,0.00 4.33,1.41 3.07,2.23 2.67,3.68 1.17,3.61 0.00,4.55 -1.17,3.61 -2.67,3.68 -3.07,2.23 -4.33,1.41 -3.80,0.00 -4.33,-1.41 -3.07,-2.23 -2.67,-3.68 -1.17,-3.61" fill="#1e1890" stroke="#141066" stroke-width="0.9" stroke-linejoin="round"/><circle cx="-0.3" cy="-0.4" r="2.4" fill="#2820a8" opacity="0.85"/></g>
<g transform="translate(474.6,373.8)"><polygon points="0.00,-4.55 1.17,-3.61 2.67,-3.68 3.07,-2.23 4.33,-1.41 3.80,0.00 4.33,1.41 3.07,2.23 2.67,3.68 1.17,3.61 0.00,4.55 -1.17,3.61 -2.67,3.68 -3.07,2.23 -4.33,1.41 -3.80,0.00 -4.33,-1.41 -3.07,-2.23 -2.67,-3.68 -1.17,-3.61" fill="#1e1890" stroke="#141066" stroke-width="0.9" stroke-linejoin="round"/><circle cx="-0.3" cy="-0.4" r="2.4" fill="#2820a8" opacity="0.85"/></g>
<g transform="translate(493.9,367.6)"><polygon points="0.00,-4.55 1.17,-3.61 2.67,-3.68 3.07,-2.23 4.33,-1.41 3.80,0.00 4.33,1.41 3.07,2.23 2.67,3.68 1.17,3.61 0.00,4.55 -1.17,3.61 -2.67,3.68 -3.07,2.23 -4.33,1.41 -3.80,0.00 -4.33,-1.41 -3.07,-2.23 -2.67,-3.68 -1.17,-3.61" fill="#1e1890" stroke="#141066" stroke-width="0.9" stroke-linejoin="round"/><circle cx="-0.3" cy="-0.4" r="2.4" fill="#2820a8" opacity="0.85"/></g>
<g transform="translate(493.9,381.5)"><polygon points="0.00,-4.55 1.17,-3.61 2.67,-3.68 3.07,-2.23 4.33,-1.41 3.80,0.00 4.33,1.41 3.07,2.23 2.67,3.68 1.17,3.61 0.00,4.55 -1.17,3.61 -2.67,3.68 -3.07,2.23 -4.33,1.41 -3.80,0.00 -4.33,-1.41 -3.07,-2.23 -2.67,-3.68 -1.17,-3.61" fill="#1e1890" stroke="#141066" stroke-width="0.9" stroke-linejoin="round"/><circle cx="-0.3" cy="-0.4" r="2.4" fill="#2820a8" opacity="0.85"/></g>
<g transform="translate(416.9,395.1)"><polygon points="0.00,-4.55 1.17,-3.61 2.67,-3.68 3.07,-2.23 4.33,-1.41 3.80,0.00 4.33,1.41 3.07,2.23 2.67,3.68 1.17,3.61 0.00,4.55 -1.17,3.61 -2.67,3.68 -3.07,2.23 -4.33,1.41 -3.80,0.00 -4.33,-1.41 -3.07,-2.23 -2.67,-3.68 -1.17,-3.61" fill="#1e1890" stroke="#141066" stroke-width="0.9" stroke-linejoin="round"/><circle cx="-0.3" cy="-0.4" r="2.4" fill="#2820a8" opacity="0.85"/></g>
<g transform="translate(479.4,392.9)"><polygon points="0.00,-4.55 1.17,-3.61 2.67,-3.68 3.07,-2.23 4.33,-1.41 3.80,0.00 4.33,1.41 3.07,2.23 2.67,3.68 1.17,3.61 0.00,4.55 -1.17,3.61 -2.67,3.68 -3.07,2.23 -4.33,1.41 -3.80,0.00 -4.33,-1.41 -3.07,-2.23 -2.67,-3.68 -1.17,-3.61" fill="#1e1890" stroke="#141066" stroke-width="0.9" stroke-linejoin="round"/><circle cx="-0.3" cy="-0.4" r="2.4" fill="#2820a8" opacity="0.85"/></g>
<g transform="translate(434.6,407.1)"><polygon points="0.00,-4.55 1.17,-3.61 2.67,-3.68 3.07,-2.23 4.33,-1.41 3.80,0.00 4.33,1.41 3.07,2.23 2.67,3.68 1.17,3.61 0.00,4.55 -1.17,3.61 -2.67,3.68 -3.07,2.23 -4.33,1.41 -3.80,0.00 -4.33,-1.41 -3.07,-2.23 -2.67,-3.68 -1.17,-3.61" fill="#1e1890" stroke="#141066" stroke-width="0.9" stroke-linejoin="round"/><circle cx="-0.3" cy="-0.4" r="2.4" fill="#2820a8" opacity="0.85"/></g>
<g transform="translate(433.4,405.6)"><polygon points="0.00,-4.55 1.17,-3.61 2.67,-3.68 3.07,-2.23 4.33,-1.41 3.80,0.00 4.33,1.41 3.07,2.23 2.67,3.68 1.17,3.61 0.00,4.55 -1.17,3.61 -2.67,3.68 -3.07,2.23 -4.33,1.41 -3.80,0.00 -4.33,-1.41 -3.07,-2.23 -2.67,-3.68 -1.17,-3.61" fill="#1e1890" stroke="#141066" stroke-width="0.9" stroke-linejoin="round"/><circle cx="-0.3" cy="-0.4" r="2.4" fill="#2820a8" opacity="0.85"/></g>
<g transform="translate(473.1,417.5)"><polygon points="0.00,-4.55 1.17,-3.61 2.67,-3.68 3.07,-2.23 4.33,-1.41 3.80,0.00 4.33,1.41 3.07,2.23 2.67,3.68 1.17,3.61 0.00,4.55 -1.17,3.61 -2.67,3.68 -3.07,2.23 -4.33,1.41 -3.80,0.00 -4.33,-1.41 -3.07,-2.23 -2.67,-3.68 -1.17,-3.61" fill="#1e1890" stroke="#141066" stroke-width="0.9" stroke-linejoin="round"/><circle cx="-0.3" cy="-0.4" r="2.4" fill="#2820a8" opacity="0.85"/></g>
<g transform="translate(505.5,409.6)"><polygon points="0.00,-4.55 1.17,-3.61 2.67,-3.68 3.07,-2.23 4.33,-1.41 3.80,0.00 4.33,1.41 3.07,2.23 2.67,3.68 1.17,3.61 0.00,4.55 -1.17,3.61 -2.67,3.68 -3.07,2.23 -4.33,1.41 -3.80,0.00 -4.33,-1.41 -3.07,-2.23 -2.67,-3.68 -1.17,-3.61" fill="#1e1890" stroke="#141066" stroke-width="0.9" stroke-linejoin="round"/><circle cx="-0.3" cy="-0.4" r="2.4" fill="#2820a8" opacity="0.85"/></g>
<g transform="translate(537,374.1)"><polygon points="0.00,-4.55 1.17,-3.61 2.67,-3.68 3.07,-2.23 4.33,-1.41 3.80,0.00 4.33,1.41 3.07,2.23 2.67,3.68 1.17,3.61 0.00,4.55 -1.17,3.61 -2.67,3.68 -3.07,2.23 -4.33,1.41 -3.80,0.00 -4.33,-1.41 -3.07,-2.23 -2.67,-3.68 -1.17,-3.61" fill="#1e1890" stroke="#141066" stroke-width="0.9" stroke-linejoin="round"/><circle cx="-0.3" cy="-0.4" r="2.4" fill="#2820a8" opacity="0.85"/></g>
<g transform="translate(542.6,375.6)"><polygon points="0.00,-4.55 1.17,-3.61 2.67,-3.68 3.07,-2.23 4.33,-1.41 3.80,0.00 4.33,1.41 3.07,2.23 2.67,3.68 1.17,3.61 0.00,4.55 -1.17,3.61 -2.67,3.68 -3.07,2.23 -4.33,1.41 -3.80,0.00 -4.33,-1.41 -3.07,-2.23 -2.67,-3.68 -1.17,-3.61" fill="#1e1890" stroke="#141066" stroke-width="0.9" stroke-linejoin="round"/><circle cx="-0.3" cy="-0.4" r="2.4" fill="#2820a8" opacity="0.85"/></g>
<g transform="translate(560,372.6)"><polygon points="0.00,-4.55 1.17,-3.61 2.67,-3.68 3.07,-2.23 4.33,-1.41 3.80,0.00 4.33,1.41 3.07,2.23 2.67,3.68 1.17,3.61 0.00,4.55 -1.17,3.61 -2.67,3.68 -3.07,2.23 -4.33,1.41 -3.80,0.00 -4.33,-1.41 -3.07,-2.23 -2.67,-3.68 -1.17,-3.61" fill="#1e1890" stroke="#141066" stroke-width="0.9" stroke-linejoin="round"/><circle cx="-0.3" cy="-0.4" r="2.4" fill="#2820a8" opacity="0.85"/></g>
<g transform="translate(521.5,386.7)"><polygon points="0.00,-4.55 1.17,-3.61 2.67,-3.68 3.07,-2.23 4.33,-1.41 3.80,0.00 4.33,1.41 3.07,2.23 2.67,3.68 1.17,3.61 0.00,4.55 -1.17,3.61 -2.67,3.68 -3.07,2.23 -4.33,1.41 -3.80,0.00 -4.33,-1.41 -3.07,-2.23 -2.67,-3.68 -1.17,-3.61" fill="#1e1890" stroke="#141066" stroke-width="0.9" stroke-linejoin="round"/><circle cx="-0.3" cy="-0.4" r="2.4" fill="#2820a8" opacity="0.85"/></g>
<g transform="translate(530.8,390.4)"><polygon points="0.00,-4.55 1.17,-3.61 2.67,-3.68 3.07,-2.23 4.33,-1.41 3.80,0.00 4.33,1.41 3.07,2.23 2.67,3.68 1.17,3.61 0.00,4.55 -1.17,3.61 -2.67,3.68 -3.07,2.23 -4.33,1.41 -3.80,0.00 -4.33,-1.41 -3.07,-2.23 -2.67,-3.68 -1.17,-3.61" fill="#1e1890" stroke="#141066" stroke-width="0.9" stroke-linejoin="round"/><circle cx="-0.3" cy="-0.4" r="2.4" fill="#2820a8" opacity="0.85"/></g>
<g transform="translate(545.6,386.7)"><polygon points="0.00,-4.55 1.17,-3.61 2.67,-3.68 3.07,-2.23 4.33,-1.41 3.80,0.00 4.33,1.41 3.07,2.23 2.67,3.68 1.17,3.61 0.00,4.55 -1.17,3.61 -2.67,3.68 -3.07,2.23 -4.33,1.41 -3.80,0.00 -4.33,-1.41 -3.07,-2.23 -2.67,-3.68 -1.17,-3.61" fill="#1e1890" stroke="#141066" stroke-width="0.9" stroke-linejoin="round"/><circle cx="-0.3" cy="-0.4" r="2.4" fill="#2820a8" opacity="0.85"/></g>
<g transform="translate(561,385.2)"><polygon points="0.00,-4.55 1.17,-3.61 2.67,-3.68 3.07,-2.23 4.33,-1.41 3.80,0.00 4.33,1.41 3.07,2.23 2.67,3.68 1.17,3.61 0.00,4.55 -1.17,3.61 -2.67,3.68 -3.07,2.23 -4.33,1.41 -3.80,0.00 -4.33,-1.41 -3.07,-2.23 -2.67,-3.68 -1.17,-3.61" fill="#1e1890" stroke="#141066" stroke-width="0.9" stroke-linejoin="round"/><circle cx="-0.3" cy="-0.4" r="2.4" fill="#2820a8" opacity="0.85"/></g>
<g transform="translate(591.9,391.6)"><polygon points="0.00,-4.55 1.17,-3.61 2.67,-3.68 3.07,-2.23 4.33,-1.41 3.80,0.00 4.33,1.41 3.07,2.23 2.67,3.68 1.17,3.61 0.00,4.55 -1.17,3.61 -2.67,3.68 -3.07,2.23 -4.33,1.41 -3.80,0.00 -4.33,-1.41 -3.07,-2.23 -2.67,-3.68 -1.17,-3.61" fill="#1e1890" stroke="#141066" stroke-width="0.9" stroke-linejoin="round"/><circle cx="-0.3" cy="-0.4" r="2.4" fill="#2820a8" opacity="0.85"/></g>
<g transform="translate(574.1,404.4)"><polygon points="0.00,-4.55 1.17,-3.61 2.67,-3.68 3.07,-2.23 4.33,-1.41 3.80,0.00 4.33,1.41 3.07,2.23 2.67,3.68 1.17,3.61 0.00,4.55 -1.17,3.61 -2.67,3.68 -3.07,2.23 -4.33,1.41 -3.80,0.00 -4.33,-1.41 -3.07,-2.23 -2.67,-3.68 -1.17,-3.61" fill="#1e1890" stroke="#141066" stroke-width="0.9" stroke-linejoin="round"/><circle cx="-0.3" cy="-0.4" r="2.4" fill="#2820a8" opacity="0.85"/></g>
<g transform="translate(586.7,411.1)"><polygon points="0.00,-4.55 1.17,-3.61 2.67,-3.68 3.07,-2.23 4.33,-1.41 3.80,0.00 4.33,1.41 3.07,2.23 2.67,3.68 1.17,3.61 0.00,4.55 -1.17,3.61 -2.67,3.68 -3.07,2.23 -4.33,1.41 -3.80,0.00 -4.33,-1.41 -3.07,-2.23 -2.67,-3.68 -1.17,-3.61" fill="#1e1890" stroke="#141066" stroke-width="0.9" stroke-linejoin="round"/><circle cx="-0.3" cy="-0.4" r="2.4" fill="#2820a8" opacity="0.85"/></g>
<g transform="translate(615.8,354.8)"><polygon points="0.00,-4.55 1.17,-3.61 2.67,-3.68 3.07,-2.23 4.33,-1.41 3.80,0.00 4.33,1.41 3.07,2.23 2.67,3.68 1.17,3.61 0.00,4.55 -1.17,3.61 -2.67,3.68 -3.07,2.23 -4.33,1.41 -3.80,0.00 -4.33,-1.41 -3.07,-2.23 -2.67,-3.68 -1.17,-3.61" fill="#1e1890" stroke="#141066" stroke-width="0.9" stroke-linejoin="round"/><circle cx="-0.3" cy="-0.4" r="2.4" fill="#2820a8" opacity="0.85"/></g>
<g transform="translate(655.7,361.4)"><polygon points="0.00,-4.55 1.17,-3.61 2.67,-3.68 3.07,-2.23 4.33,-1.41 3.80,0.00 4.33,1.41 3.07,2.23 2.67,3.68 1.17,3.61 0.00,4.55 -1.17,3.61 -2.67,3.68 -3.07,2.23 -4.33,1.41 -3.80,0.00 -4.33,-1.41 -3.07,-2.23 -2.67,-3.68 -1.17,-3.61" fill="#1e1890" stroke="#141066" stroke-width="0.9" stroke-linejoin="round"/><circle cx="-0.3" cy="-0.4" r="2.4" fill="#2820a8" opacity="0.85"/></g>
<g transform="translate(647.6,377.3)"><polygon points="0.00,-4.55 1.17,-3.61 2.67,-3.68 3.07,-2.23 4.33,-1.41 3.80,0.00 4.33,1.41 3.07,2.23 2.67,3.68 1.17,3.61 0.00,4.55 -1.17,3.61 -2.67,3.68 -3.07,2.23 -4.33,1.41 -3.80,0.00 -4.33,-1.41 -3.07,-2.23 -2.67,-3.68 -1.17,-3.61" fill="#1e1890" stroke="#141066" stroke-width="0.9" stroke-linejoin="round"/><circle cx="-0.3" cy="-0.4" r="2.4" fill="#2820a8" opacity="0.85"/></g>
<g transform="translate(614.1,390)"><polygon points="0.00,-4.55 1.17,-3.61 2.67,-3.68 3.07,-2.23 4.33,-1.41 3.80,0.00 4.33,1.41 3.07,2.23 2.67,3.68 1.17,3.61 0.00,4.55 -1.17,3.61 -2.67,3.68 -3.07,2.23 -4.33,1.41 -3.80,0.00 -4.33,-1.41 -3.07,-2.23 -2.67,-3.68 -1.17,-3.61" fill="#1e1890" stroke="#141066" stroke-width="0.9" stroke-linejoin="round"/><circle cx="-0.3" cy="-0.4" r="2.4" fill="#2820a8" opacity="0.85"/></g>
<g transform="translate(623.6,407.6)"><polygon points="0.00,-4.55 1.17,-3.61 2.67,-3.68 3.07,-2.23 4.33,-1.41 3.80,0.00 4.33,1.41 3.07,2.23 2.67,3.68 1.17,3.61 0.00,4.55 -1.17,3.61 -2.67,3.68 -3.07,2.23 -4.33,1.41 -3.80,0.00 -4.33,-1.41 -3.07,-2.23 -2.67,-3.68 -1.17,-3.61" fill="#1e1890" stroke="#141066" stroke-width="0.9" stroke-linejoin="round"/><circle cx="-0.3" cy="-0.4" r="2.4" fill="#2820a8" opacity="0.85"/></g>
<g transform="translate(626.7,414.3)"><polygon points="0.00,-4.55 1.17,-3.61 2.67,-3.68 3.07,-2.23 4.33,-1.41 3.80,0.00 4.33,1.41 3.07,2.23 2.67,3.68 1.17,3.61 0.00,4.55 -1.17,3.61 -2.67,3.68 -3.07,2.23 -4.33,1.41 -3.80,0.00 -4.33,-1.41 -3.07,-2.23 -2.67,-3.68 -1.17,-3.61" fill="#1e1890" stroke="#141066" stroke-width="0.9" stroke-linejoin="round"/><circle cx="-0.3" cy="-0.4" r="2.4" fill="#2820a8" opacity="0.85"/></g>
<path d="M66.3,559 H315.8 V785.2 H66.3" fill="none" stroke="#a2a2a2" stroke-width="1.8"/>
<line x1="66.3" y1="559" x2="66.3" y2="785.2" stroke="#a2a2a2" stroke-width="1.8"/>
<line x1="60.3" y1="559" x2="66.3" y2="559" stroke="#a2a2a2" stroke-width="1.4"/>
<text x="45.6" y="566" font-size="14" text-anchor="end" fill="#2a2a2a">12</text>
<line x1="60.3" y1="596.7" x2="66.3" y2="596.7" stroke="#a2a2a2" stroke-width="1.4"/>
<text x="45.6" y="603.7" font-size="14" text-anchor="end" fill="#2a2a2a">8</text>
<line x1="60.3" y1="634.4" x2="66.3" y2="634.4" stroke="#a2a2a2" stroke-width="1.4"/>
<text x="45.6" y="641.4" font-size="14" text-anchor="end" fill="#2a2a2a">4</text>
<line x1="60.3" y1="672.1" x2="66.3" y2="672.1" stroke="#a2a2a2" stroke-width="1.4"/>
<text x="45.6" y="679.1" font-size="14" text-anchor="end" fill="#2a2a2a">0</text>
<line x1="60.3" y1="709.8" x2="66.3" y2="709.8" stroke="#a2a2a2" stroke-width="1.4"/>
<text x="45.6" y="716.8" font-size="14" text-anchor="end" fill="#2a2a2a">-4</text>
<line x1="60.3" y1="747.5" x2="66.3" y2="747.5" stroke="#a2a2a2" stroke-width="1.4"/>
<text x="45.6" y="754.5" font-size="14" text-anchor="end" fill="#2a2a2a">-8</text>
<line x1="60.3" y1="785.2" x2="66.3" y2="785.2" stroke="#a2a2a2" stroke-width="1.4"/>
<text x="45.6" y="792.2" font-size="14" text-anchor="end" fill="#2a2a2a">-12</text>
<line x1="66.3" y1="672.1" x2="315.8" y2="672.1" stroke="#b0b0b0" stroke-width="1.6"/>
<line x1="107.45" y1="672.1" x2="107.45" y2="675.1" stroke="#b8b8b8" stroke-width="1"/>
<line x1="148.8" y1="672.1" x2="148.8" y2="675.1" stroke="#b8b8b8" stroke-width="1"/>
<line x1="190.5" y1="672.1" x2="190.5" y2="675.1" stroke="#b8b8b8" stroke-width="1"/>
<line x1="232.15" y1="672.1" x2="232.15" y2="675.1" stroke="#b8b8b8" stroke-width="1"/>
<line x1="273.55" y1="672.1" x2="273.55" y2="675.1" stroke="#b8b8b8" stroke-width="1"/>
<rect x="78.6" y="653.7" width="17.2" height="18.7" fill="#d01c08"/>
<rect x="120.1" y="672.4" width="17.2" height="6.2" fill="#d01c08"/>
<rect x="161.9" y="672.4" width="16.9" height="13.9" fill="#d01c08"/>
<rect x="203.7" y="672.4" width="17" height="9.2" fill="#d01c08"/>
<rect x="245.3" y="672.4" width="16.7" height="14.2" fill="#d01c08"/>
<rect x="286.5" y="656.7" width="15.8" height="15.7" fill="#d01c08"/>
<line x1="86.9" y1="650.4" x2="86.9" y2="682.1" stroke="#555" stroke-width="1.6"/>
<line x1="82.4" y1="650.4" x2="91.4" y2="650.4" stroke="#111" stroke-width="1.8"/>
<line x1="82.4" y1="656.7" x2="91.4" y2="656.7" stroke="#111" stroke-width="1.8"/>
<line x1="82.4" y1="661.6" x2="91.4" y2="661.6" stroke="#111" stroke-width="1.8"/>
<line x1="82.4" y1="682.1" x2="91.4" y2="682.1" stroke="#111" stroke-width="1.8"/>
<line x1="128" y1="667.8" x2="128" y2="683.3" stroke="#555" stroke-width="1.6"/>
<line x1="123.5" y1="667.8" x2="132.5" y2="667.8" stroke="#111" stroke-width="1.8"/>
<line x1="123.5" y1="675.9" x2="132.5" y2="675.9" stroke="#111" stroke-width="1.8"/>
<line x1="123.5" y1="683.3" x2="132.5" y2="683.3" stroke="#111" stroke-width="1.8"/>
<line x1="169.6" y1="666" x2="169.6" y2="694.1" stroke="#555" stroke-width="1.6"/>
<line x1="165.1" y1="666" x2="174.1" y2="666" stroke="#111" stroke-width="1.8"/>
<line x1="165.1" y1="677.4" x2="174.1" y2="677.4" stroke="#111" stroke-width="1.8"/>
<line x1="165.1" y1="680.7" x2="174.1" y2="680.7" stroke="#111" stroke-width="1.8"/>
<line x1="165.1" y1="694.1" x2="174.1" y2="694.1" stroke="#111" stroke-width="1.8"/>
<line x1="211.4" y1="668.1" x2="211.4" y2="686.3" stroke="#555" stroke-width="1.6"/>
<line x1="206.9" y1="668.1" x2="215.9" y2="668.1" stroke="#111" stroke-width="1.8"/>
<line x1="206.9" y1="677.1" x2="215.9" y2="677.1" stroke="#111" stroke-width="1.8"/>
<line x1="206.9" y1="686.3" x2="215.9" y2="686.3" stroke="#111" stroke-width="1.8"/>
<line x1="252.9" y1="656.7" x2="252.9" y2="696.7" stroke="#555" stroke-width="1.6"/>
<line x1="248.4" y1="656.7" x2="257.4" y2="656.7" stroke="#111" stroke-width="1.8"/>
<line x1="248.4" y1="675.9" x2="257.4" y2="675.9" stroke="#111" stroke-width="1.8"/>
<line x1="248.4" y1="687" x2="257.4" y2="687" stroke="#111" stroke-width="1.8"/>
<line x1="248.4" y1="696.7" x2="257.4" y2="696.7" stroke="#111" stroke-width="1.8"/>
<line x1="294.2" y1="648.8" x2="294.2" y2="680.4" stroke="#555" stroke-width="1.6"/>
<line x1="289.7" y1="648.8" x2="298.7" y2="648.8" stroke="#111" stroke-width="1.8"/>
<line x1="289.7" y1="662.9" x2="298.7" y2="662.9" stroke="#111" stroke-width="1.8"/>
<line x1="289.7" y1="665.9" x2="298.7" y2="665.9" stroke="#111" stroke-width="1.8"/>
<line x1="289.7" y1="680.4" x2="298.7" y2="680.4" stroke="#111" stroke-width="1.8"/>
<text x="88.5" y="809.7" font-size="13" text-anchor="middle" fill="#444">0-4</text>
<text x="132.1" y="809.7" font-size="13" text-anchor="middle" fill="#444">4-8</text>
<text x="172" y="809.7" font-size="13" text-anchor="middle" fill="#444">8-12</text>
<text x="211.9" y="809.7" font-size="13" text-anchor="middle" fill="#444">12-16</text>
<text x="255.5" y="809.7" font-size="13" text-anchor="middle" fill="#444">16-20</text>
<text x="298.3" y="809.7" font-size="13" text-anchor="middle" fill="#444">20-24</text>
<text x="193.6" y="833" font-size="14" text-anchor="middle" fill="#222">CT</text>
<text x="0" y="0" font-size="10.6" text-anchor="middle" fill="#555" textLength="99.5" lengthAdjust="spacingAndGlyphs" transform="translate(23.2,669) rotate(-90)">shift amount (h)</text>
<path d="M416,562.3 H660.2 V786.5 H416" fill="none" stroke="#a2a2a2" stroke-width="1.8"/>
<line x1="416" y1="562.3" x2="416" y2="786.5" stroke="#a2a2a2" stroke-width="1.8"/>
<line x1="412.5" y1="562.3" x2="416" y2="562.3" stroke="#a2a2a2" stroke-width="1.4"/>
<text x="399.5" y="567.2" font-size="14" text-anchor="end" fill="#222">12</text>
<line x1="412.5" y1="599.67" x2="416" y2="599.67" stroke="#a2a2a2" stroke-width="1.4"/>
<text x="399.5" y="606.07" font-size="14" text-anchor="end" fill="#555">8</text>
<line x1="412.5" y1="637.03" x2="416" y2="637.03" stroke="#a2a2a2" stroke-width="1.4"/>
<text x="399.5" y="643.43" font-size="14" text-anchor="end" fill="#555">4</text>
<line x1="412.5" y1="674.4" x2="416" y2="674.4" stroke="#a2a2a2" stroke-width="1.4"/>
<text x="399.5" y="680.8" font-size="14" text-anchor="end" fill="#555">0</text>
<line x1="412.5" y1="711.77" x2="416" y2="711.77" stroke="#a2a2a2" stroke-width="1.4"/>
<text x="399.5" y="718.17" font-size="14" text-anchor="end" fill="#555">-4</text>
<line x1="412.5" y1="749.13" x2="416" y2="749.13" stroke="#a2a2a2" stroke-width="1.4"/>
<text x="399.5" y="755.53" font-size="14" text-anchor="end" fill="#555">-8</text>
<line x1="412.5" y1="786.5" x2="416" y2="786.5" stroke="#a2a2a2" stroke-width="1.4"/>
<text x="399.5" y="792.9" font-size="14" text-anchor="end" fill="#555">-12</text>
<line x1="416" y1="674.4" x2="660.2" y2="674.4" stroke="#b0b0b0" stroke-width="1.6"/>
<line x1="456.5" y1="674.4" x2="456.5" y2="677.4" stroke="#b8b8b8" stroke-width="1"/>
<line x1="497.3" y1="674.4" x2="497.3" y2="677.4" stroke="#b8b8b8" stroke-width="1"/>
<line x1="538.05" y1="674.4" x2="538.05" y2="677.4" stroke="#b8b8b8" stroke-width="1"/>
<line x1="578.7" y1="674.4" x2="578.7" y2="677.4" stroke="#b8b8b8" stroke-width="1"/>
<line x1="619.4" y1="674.4" x2="619.4" y2="677.4" stroke="#b8b8b8" stroke-width="1"/>
<rect x="429.1" y="674.4" width="15" height="59.7" fill="#d01c08"/>
<rect x="469.1" y="626.3" width="15.2" height="48.1" fill="#d01c08"/>
<rect x="510.4" y="631.2" width="16" height="43.2" fill="#d01c08"/>
<rect x="550.1" y="654.7" width="16.1" height="19.7" fill="#d01c08"/>
<rect x="592" y="671.8" width="15.5" height="2.1" fill="#d01c08"/>
<rect x="632.5" y="674.4" width="15.1" height="59.7" fill="#d01c08"/>
<line x1="436.5" y1="667.7" x2="436.5" y2="680" stroke="#444" stroke-width="1.6"/>
<line x1="436.5" y1="725.2" x2="436.5" y2="743" stroke="#444" stroke-width="1.6"/>
<line x1="432" y1="667.7" x2="441" y2="667.7" stroke="#111" stroke-width="1.8"/>
<line x1="432" y1="680" x2="441" y2="680" stroke="#111" stroke-width="1.8"/>
<line x1="432" y1="725.2" x2="441" y2="725.2" stroke="#111" stroke-width="1.8"/>
<line x1="432" y1="743" x2="441" y2="743" stroke="#111" stroke-width="1.8"/>
<line x1="476.5" y1="617" x2="476.5" y2="633.7" stroke="#444" stroke-width="1.6"/>
<line x1="476.5" y1="666.7" x2="476.5" y2="683.6" stroke="#444" stroke-width="1.6"/>
<line x1="472" y1="617" x2="481" y2="617" stroke="#111" stroke-width="1.8"/>
<line x1="472" y1="633.7" x2="481" y2="633.7" stroke="#111" stroke-width="1.8"/>
<line x1="472" y1="666.7" x2="481" y2="666.7" stroke="#111" stroke-width="1.8"/>
<line x1="472" y1="683.6" x2="481" y2="683.6" stroke="#111" stroke-width="1.8"/>
<line x1="518.1" y1="620.1" x2="518.1" y2="643" stroke="#444" stroke-width="1.6"/>
<line x1="518.1" y1="667.8" x2="518.1" y2="682.6" stroke="#444" stroke-width="1.6"/>
<line x1="513.6" y1="620.1" x2="522.6" y2="620.1" stroke="#111" stroke-width="1.8"/>
<line x1="513.6" y1="643" x2="522.6" y2="643" stroke="#111" stroke-width="1.8"/>
<line x1="513.6" y1="667.8" x2="522.6" y2="667.8" stroke="#111" stroke-width="1.8"/>
<line x1="513.6" y1="682.6" x2="522.6" y2="682.6" stroke="#111" stroke-width="1.8"/>
<line x1="558" y1="651.6" x2="558" y2="659.7" stroke="#444" stroke-width="1.6"/>
<line x1="558" y1="669.3" x2="558" y2="680.4" stroke="#444" stroke-width="1.6"/>
<line x1="553.5" y1="651.6" x2="562.5" y2="651.6" stroke="#111" stroke-width="1.8"/>
<line x1="553.5" y1="659.7" x2="562.5" y2="659.7" stroke="#111" stroke-width="1.8"/>
<line x1="553.5" y1="669.3" x2="562.5" y2="669.3" stroke="#111" stroke-width="1.8"/>
<line x1="553.5" y1="680.4" x2="562.5" y2="680.4" stroke="#111" stroke-width="1.8"/>
<line x1="599.4" y1="664.6" x2="599.4" y2="683.9" stroke="#555" stroke-width="1.6"/>
<line x1="594.9" y1="664.6" x2="603.9" y2="664.6" stroke="#111" stroke-width="1.8"/>
<line x1="594.9" y1="669.4" x2="603.9" y2="669.4" stroke="#111" stroke-width="1.8"/>
<line x1="594.9" y1="677.5" x2="603.9" y2="677.5" stroke="#111" stroke-width="1.8"/>
<line x1="594.9" y1="683.9" x2="603.9" y2="683.9" stroke="#111" stroke-width="1.8"/>
<line x1="639.4" y1="658.1" x2="639.4" y2="690" stroke="#444" stroke-width="1.6"/>
<line x1="639.4" y1="729.3" x2="639.4" y2="739.6" stroke="#444" stroke-width="1.6"/>
<line x1="634.9" y1="658.1" x2="643.9" y2="658.1" stroke="#111" stroke-width="1.8"/>
<line x1="634.9" y1="690" x2="643.9" y2="690" stroke="#111" stroke-width="1.8"/>
<line x1="634.9" y1="729.3" x2="643.9" y2="729.3" stroke="#111" stroke-width="1.8"/>
<line x1="634.9" y1="739.6" x2="643.9" y2="739.6" stroke="#111" stroke-width="1.8"/>
<text x="432.4" y="812.3" font-size="13" text-anchor="middle" fill="#444">0-4</text>
<text x="476.2" y="812.3" font-size="13" text-anchor="middle" fill="#444">4-8</text>
<text x="516.4" y="812.3" font-size="13" text-anchor="middle" fill="#444">8-12</text>
<text x="555.7" y="812.3" font-size="13" text-anchor="middle" fill="#444">12-16</text>
<text x="599.4" y="812.3" font-size="13" text-anchor="middle" fill="#444">16-20</text>
<text x="642.2" y="812.3" font-size="13" text-anchor="middle" fill="#444">20-24</text>
<text x="536.5" y="833.3" font-size="14" text-anchor="middle" fill="#222">CT</text>
<text x="435.1" y="764" font-size="15" text-anchor="middle" fill="#222" font-weight="bold" letter-spacing="0.6">**</text>
<text x="475.5" y="613" font-size="15" text-anchor="middle" fill="#222" font-weight="bold" letter-spacing="0.6">**</text>
<text x="518.1" y="613.5" font-size="15" text-anchor="middle" fill="#222" font-weight="bold" letter-spacing="0.6">*</text>
<text x="642" y="764" font-size="15" text-anchor="middle" fill="#222" font-weight="bold" letter-spacing="0.6">**</text>
</svg></body></html>
